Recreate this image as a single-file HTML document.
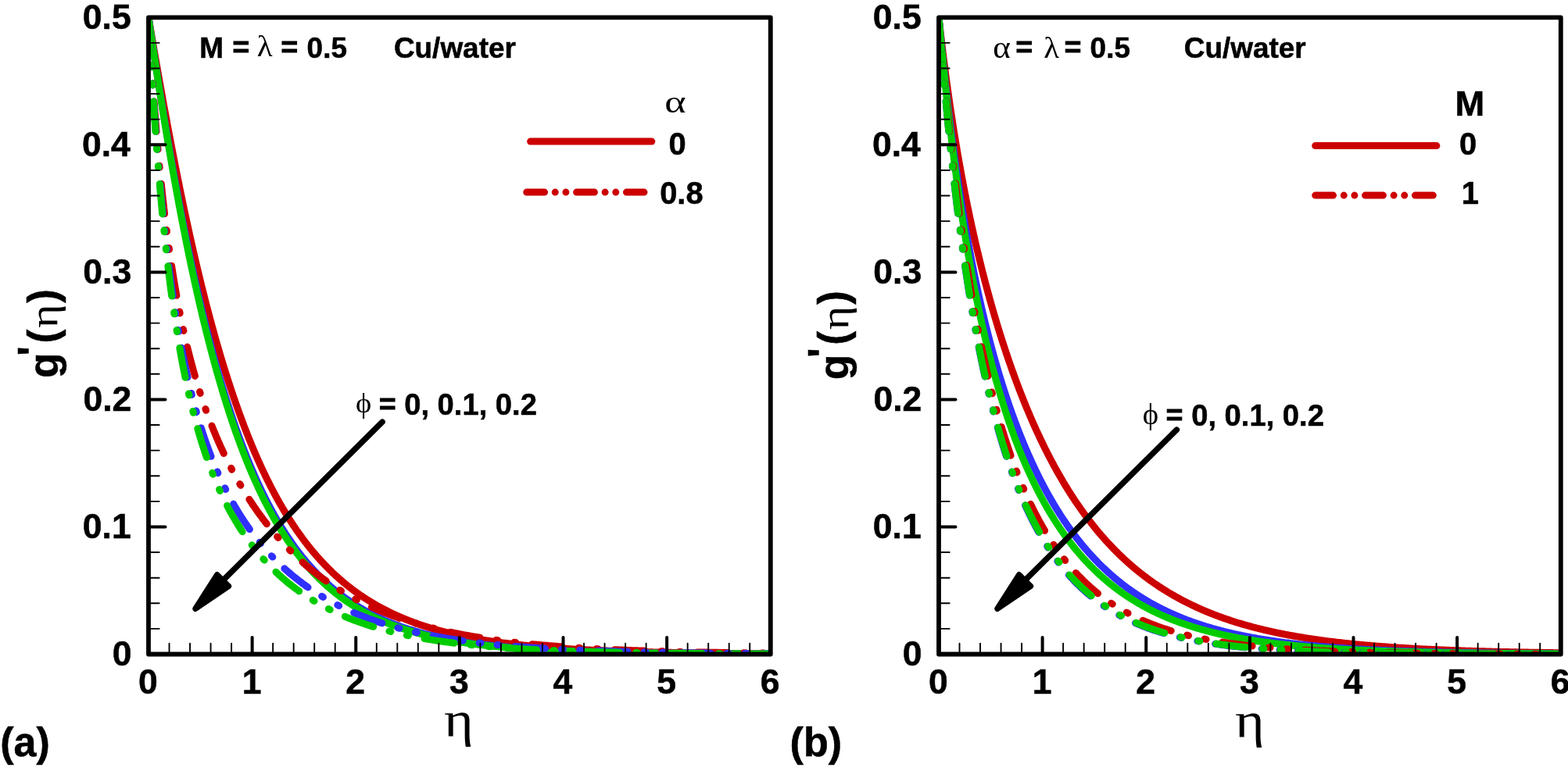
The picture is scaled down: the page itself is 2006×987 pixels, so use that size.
<!DOCTYPE html>
<html><head><meta charset="utf-8"><title>g'(η) profiles</title>
<style>html,body{margin:0;padding:0;background:#fff;overflow:hidden;width:2006px;height:987px}svg{display:block}</style></head>
<body>
<svg width="2006" height="987" viewBox="0 0 2006 987">
<rect width="2006" height="987" fill="#fff"/>
<defs><clipPath id="ca"><rect x="190.0" y="22.3" width="795.78" height="815.20"/></clipPath><clipPath id="cb"><rect x="1201.0" y="22.3" width="795.78" height="815.20"/></clipPath></defs>
<g clip-path="url(#ca)">
<path d="M190.00,22.30 L190.03,22.47 L190.09,22.82 L190.17,23.29 L190.26,23.86 L190.38,24.53 L190.50,25.29 L190.64,26.13 L190.80,27.04 L190.96,28.02 L191.14,29.07 L191.32,30.18 L191.52,31.35 L191.73,32.59 L191.95,33.88 L192.18,35.22 L192.41,36.62 L192.66,38.07 L192.91,39.58 L193.18,41.13 L193.45,42.73 L193.73,44.38 L194.01,46.07 L194.31,47.81 L194.61,49.60 L194.93,51.42 L195.24,53.29 L195.57,55.20 L195.90,57.15 L196.25,59.14 L196.59,61.17 L196.95,63.24 L197.31,65.34 L197.68,67.48 L198.06,69.66 L198.44,71.87 L198.83,74.12 L199.22,76.40 L199.63,78.72 L200.03,81.06 L200.45,83.44 L200.87,85.86 L201.30,88.30 L201.73,90.77 L202.17,93.28 L202.62,95.81 L203.07,98.37 L203.52,100.96 L203.99,103.58 L204.46,106.23 L204.93,108.90 L205.41,111.60 L205.90,114.32 L206.39,117.07 L206.89,119.85 L207.39,122.65 L207.90,125.47 L208.41,128.32 L208.93,131.19 L209.46,134.08 L209.99,136.99 L210.52,139.93 L211.07,142.88 L211.61,145.86 L212.16,148.86 L212.72,151.87 L213.28,154.91 L213.85,157.96 L214.42,161.04 L215.00,164.13 L215.58,167.24 L216.17,170.36 L216.76,173.50 L217.36,176.66 L217.96,179.83 L218.57,183.02 L219.18,186.22 L219.79,189.44 L220.42,192.67 L221.04,195.92 L221.67,199.18 L222.31,202.45 L222.95,205.73 L223.60,209.02 L224.25,212.33 L224.90,215.65 L225.56,218.97 L226.22,222.31 L226.89,225.66 L227.56,229.02 L228.24,232.38 L228.92,235.75 L229.61,239.14 L230.30,242.53 L231.00,245.92 L231.70,249.33 L232.40,252.74 L233.11,256.15 L233.82,259.57 L234.54,263.00 L235.26,266.43 L235.99,269.87 L236.72,273.31 L237.46,276.76 L238.20,280.20 L238.94,283.66 L239.69,287.11 L240.44,290.57 L241.20,294.02 L241.96,297.48 L242.72,300.94 L243.49,304.41 L244.26,307.87 L245.04,311.33 L245.82,314.79 L246.61,318.25 L247.40,321.71 L248.19,325.17 L248.99,328.63 L249.79,332.09 L250.60,335.54 L251.41,338.99 L252.22,342.44 L253.04,345.89 L253.86,349.33 L254.69,352.77 L255.52,356.20 L256.35,359.63 L257.19,363.05 L258.03,366.47 L258.87,369.89 L259.72,373.30 L260.58,376.70 L261.44,380.10 L262.30,383.49 L263.16,386.87 L264.03,390.25 L264.90,393.62 L265.78,396.98 L266.66,400.33 L267.55,403.68 L268.43,407.01 L269.33,410.34 L270.22,413.66 L271.12,416.97 L272.02,420.28 L272.93,423.57 L273.84,426.85 L274.76,430.12 L275.67,433.39 L276.60,436.64 L277.52,439.88 L278.45,443.11 L279.38,446.33 L280.32,449.54 L281.26,452.73 L282.20,455.92 L283.15,459.09 L284.10,462.25 L285.06,465.40 L286.02,468.54 L286.98,471.66 L287.94,474.77 L288.91,477.87 L289.89,480.96 L290.86,484.03 L291.84,487.09 L292.82,490.13 L293.81,493.16 L294.80,496.18 L295.80,499.19 L296.79,502.17 L297.79,505.15 L298.80,508.11 L299.81,511.06 L300.82,513.99 L301.83,516.91 L302.85,519.81 L303.87,522.69 L304.90,525.57 L305.93,528.42 L306.96,531.27 L308.00,534.09 L309.03,536.90 L310.08,539.70 L311.12,542.48 L312.17,545.24 L313.22,547.99 L314.28,550.72 L315.34,553.44 L316.40,556.14 L317.47,558.82 L318.54,561.49 L319.61,564.14 L320.69,566.78 L321.77,569.40 L322.85,572.00 L323.94,574.59 L325.03,577.16 L326.12,579.71 L327.21,582.25 L328.31,584.77 L329.42,587.27 L330.52,589.76 L331.63,592.23 L332.74,594.68 L333.86,597.12 L334.98,599.54 L336.10,601.94 L337.23,604.33 L338.35,606.70 L339.49,609.05 L340.62,611.39 L341.76,613.71 L342.90,616.01 L344.05,618.30 L345.19,620.57 L346.35,622.82 L347.50,625.06 L348.66,627.27 L349.82,629.48 L350.98,631.66 L352.15,633.83 L353.32,635.98 L354.49,638.12 L355.67,640.24 L356.85,642.34 L358.03,644.43 L359.22,646.50 L360.41,648.55 L361.60,650.59 L362.79,652.61 L363.99,654.61 L365.19,656.60 L366.40,658.57 L367.61,660.52 L368.82,662.46 L370.03,664.39 L371.25,666.29 L372.47,668.18 L373.69,670.06 L374.92,671.92 L376.15,673.76 L377.38,675.58 L378.61,677.40 L379.85,679.19 L381.09,680.97 L382.34,682.73 L383.59,684.48 L384.84,686.22 L386.09,687.93 L387.35,689.63 L388.61,691.32 L389.87,692.99 L391.13,694.65 L392.40,696.29 L393.67,697.92 L394.95,699.53 L396.23,701.12 L397.51,702.71 L398.79,704.27 L400.08,705.83 L401.37,707.36 L402.66,708.89 L403.95,710.40 L405.25,711.89 L406.55,713.37 L407.86,714.84 L409.16,716.29 L410.47,717.73 L411.79,719.15 L413.10,720.56 L414.42,721.96 L415.74,723.34 L417.07,724.71 L418.39,726.06 L419.72,727.41 L421.06,728.73 L422.39,730.05 L423.73,731.35 L425.07,732.64 L426.42,733.92 L427.77,735.18 L429.12,736.43 L430.47,737.67 L431.83,738.89 L433.18,740.11 L434.55,741.31 L435.91,742.50 L437.28,743.67 L438.65,744.83 L440.02,745.98 L441.40,747.12 L442.78,748.25 L444.16,749.37 L445.54,750.47 L446.93,751.56 L448.32,752.64 L449.72,753.71 L451.11,754.77 L452.51,755.81 L453.91,756.85 L455.32,757.87 L456.72,758.88 L458.13,759.88 L459.54,760.87 L460.96,761.85 L462.38,762.82 L463.80,763.78 L465.22,764.73 L466.65,765.66 L468.08,766.59 L469.51,767.51 L470.95,768.41 L472.38,769.31 L473.82,770.19 L475.27,771.07 L476.71,771.94 L478.16,772.79 L479.61,773.64 L481.07,774.48 L482.52,775.30 L483.98,776.12 L485.44,776.93 L486.91,777.73 L488.38,778.52 L489.85,779.30 L491.32,780.07 L492.80,780.84 L494.27,781.59 L495.75,782.34 L497.24,783.07 L498.73,783.80 L500.21,784.52 L501.71,785.23 L503.20,785.94 L504.70,786.63 L506.20,787.32 L507.70,788.00 L509.21,788.67 L510.71,789.33 L512.22,789.98 L513.74,790.63 L515.25,791.27 L516.77,791.90 L518.29,792.52 L519.82,793.14 L521.34,793.75 L522.87,794.35 L524.40,794.94 L525.94,795.53 L527.48,796.11 L529.02,796.68 L530.56,797.24 L532.10,797.80 L533.65,798.35 L535.20,798.90 L536.75,799.43 L538.31,799.97 L539.87,800.49 L541.43,801.01 L542.99,801.52 L544.56,802.02 L546.12,802.52 L547.70,803.02 L549.27,803.50 L550.85,803.98 L552.42,804.46 L554.01,804.92 L555.59,805.39 L557.18,805.84 L558.76,806.29 L560.36,806.74 L561.95,807.18 L563.55,807.61 L565.15,808.04 L566.75,808.46 L568.35,808.88 L569.96,809.29 L571.57,809.70 L573.18,810.10 L574.80,810.49 L576.41,810.88 L578.03,811.27 L579.66,811.65 L581.28,812.02 L582.91,812.39 L584.54,812.76 L586.17,813.12 L587.81,813.48 L589.44,813.83 L591.08,814.18 L592.73,814.52 L594.37,814.85 L596.02,815.19 L597.67,815.52 L599.32,815.84 L600.98,816.16 L602.63,816.48 L604.29,816.79 L605.96,817.10 L607.62,817.40 L609.29,817.70 L610.96,817.99 L612.63,818.28 L614.31,818.57 L615.98,818.85 L617.66,819.13 L619.35,819.41 L621.03,819.68 L622.72,819.95 L624.41,820.21 L626.10,820.47 L627.80,820.73 L629.49,820.98 L631.19,821.23 L632.89,821.48 L634.60,821.72 L636.31,821.96 L638.02,822.20 L639.73,822.43 L641.44,822.66 L643.16,822.89 L644.88,823.11 L646.60,823.33 L648.32,823.55 L650.05,823.77 L651.78,823.98 L653.51,824.18 L655.25,824.39 L656.98,824.59 L658.72,824.79 L660.46,824.99 L662.21,825.18 L663.95,825.37 L665.70,825.56 L667.45,825.75 L669.20,825.93 L670.96,826.11 L672.72,826.29 L674.48,826.47 L676.24,826.64 L678.01,826.81 L679.78,826.98 L681.55,827.14 L683.32,827.31 L685.09,827.47 L686.87,827.62 L688.65,827.78 L690.43,827.93 L692.22,828.09 L694.00,828.23 L695.79,828.38 L697.58,828.53 L699.38,828.67 L701.17,828.81 L702.97,828.95 L704.77,829.09 L706.58,829.22 L708.38,829.35 L710.19,829.48 L712.00,829.61 L713.82,829.74 L715.63,829.86 L717.45,829.99 L719.27,830.11 L721.09,830.23 L722.92,830.35 L724.74,830.46 L726.57,830.58 L728.40,830.69 L730.24,830.80 L732.07,830.91 L733.91,831.02 L735.75,831.12 L737.60,831.23 L739.44,831.33 L741.29,831.43 L743.14,831.53 L744.99,831.63 L746.85,831.72 L748.71,831.82 L750.57,831.91 L752.43,832.00 L754.29,832.09 L756.16,832.18 L758.03,832.27 L759.90,832.36 L761.77,832.44 L763.65,832.53 L765.53,832.61 L767.41,832.69 L769.29,832.77 L771.17,832.85 L773.06,832.93 L774.95,833.01 L776.84,833.08 L778.74,833.15 L780.63,833.23 L782.53,833.30 L784.43,833.37 L786.34,833.44 L788.24,833.51 L790.15,833.58 L792.06,833.64 L793.97,833.71 L795.89,833.77 L797.80,833.83 L799.72,833.90 L801.65,833.96 L803.57,834.02 L805.49,834.08 L807.42,834.14 L809.35,834.19 L811.29,834.25 L813.22,834.31 L815.16,834.36 L817.10,834.41 L819.04,834.47 L820.98,834.52 L822.93,834.57 L824.88,834.62 L826.83,834.67 L828.78,834.72 L830.74,834.77 L832.70,834.81 L834.66,834.86 L836.62,834.91 L838.58,834.95 L840.55,835.00 L842.52,835.04 L844.49,835.08 L846.46,835.12 L848.44,835.17 L850.42,835.21 L852.40,835.25 L854.38,835.29 L856.36,835.33 L858.35,835.36 L860.34,835.40 L862.33,835.44 L864.32,835.47 L866.32,835.51 L868.31,835.55 L870.31,835.58 L872.32,835.61 L874.32,835.65 L876.33,835.68 L878.34,835.71 L880.35,835.74 L882.36,835.78 L884.37,835.81 L886.39,835.84 L888.41,835.87 L890.43,835.89 L892.46,835.92 L894.48,835.95 L896.51,835.98 L898.54,836.01 L900.57,836.03 L902.61,836.06 L904.65,836.09 L906.69,836.11 L908.73,836.14 L910.77,836.16 L912.82,836.18 L914.87,836.21 L916.92,836.23 L918.97,836.26 L921.02,836.28 L923.08,836.30 L925.14,836.32 L927.20,836.34 L929.26,836.36 L931.33,836.38 L933.39,836.41 L935.46,836.43 L937.54,836.44 L939.61,836.46 L941.69,836.48 L943.76,836.50 L945.85,836.52 L947.93,836.54 L950.01,836.56 L952.10,836.57 L954.19,836.59 L956.28,836.61 L958.37,836.62 L960.47,836.64 L962.57,836.66 L964.67,836.67 L966.77,836.69 L968.87,836.70 L970.98,836.72 L973.09,836.73 L975.20,836.75 L977.31,836.76 L979.42,836.77 L981.54,836.79 L983.66,836.80 L985.78,836.81" fill="none" stroke="#cc0000" stroke-width="9" stroke-linecap="round" stroke-linejoin="round"/>
<path d="M190.00,22.30 L190.03,22.49 L190.09,22.88 L190.17,23.42 L190.26,24.07 L190.38,24.83 L190.50,25.68 L190.64,26.63 L190.80,27.66 L190.96,28.77 L191.14,29.95 L191.32,31.21 L191.52,32.53 L191.73,33.93 L191.95,35.38 L192.18,36.90 L192.41,38.48 L192.66,40.12 L192.91,41.81 L193.18,43.56 L193.45,45.36 L193.73,47.22 L194.01,49.12 L194.31,51.08 L194.61,53.08 L194.93,55.14 L195.24,57.23 L195.57,59.38 L195.90,61.57 L196.25,63.80 L196.59,66.07 L196.95,68.39 L197.31,70.74 L197.68,73.14 L198.06,75.57 L198.44,78.04 L198.83,80.55 L199.22,83.10 L199.63,85.68 L200.03,88.30 L200.45,90.95 L200.87,93.64 L201.30,96.36 L201.73,99.11 L202.17,101.89 L202.62,104.71 L203.07,107.55 L203.52,110.42 L203.99,113.33 L204.46,116.26 L204.93,119.22 L205.41,122.20 L205.90,125.21 L206.39,128.25 L206.89,131.32 L207.39,134.40 L207.90,137.52 L208.41,140.65 L208.93,143.81 L209.46,146.99 L209.99,150.20 L210.52,153.42 L211.07,156.67 L211.61,159.93 L212.16,163.22 L212.72,166.52 L213.28,169.84 L213.85,173.19 L214.42,176.54 L215.00,179.92 L215.58,183.31 L216.17,186.72 L216.76,190.14 L217.36,193.58 L217.96,197.03 L218.57,200.49 L219.18,203.97 L219.79,207.47 L220.42,210.97 L221.04,214.48 L221.67,218.01 L222.31,221.55 L222.95,225.10 L223.60,228.66 L224.25,232.22 L224.90,235.80 L225.56,239.38 L226.22,242.98 L226.89,246.58 L227.56,250.18 L228.24,253.80 L228.92,257.42 L229.61,261.04 L230.30,264.67 L231.00,268.31 L231.70,271.95 L232.40,275.59 L233.11,279.24 L233.82,282.89 L234.54,286.54 L235.26,290.20 L235.99,293.85 L236.72,297.51 L237.46,301.17 L238.20,304.83 L238.94,308.48 L239.69,312.14 L240.44,315.80 L241.20,319.46 L241.96,323.11 L242.72,326.77 L243.49,330.42 L244.26,334.07 L245.04,337.71 L245.82,341.35 L246.61,344.99 L247.40,348.62 L248.19,352.25 L248.99,355.88 L249.79,359.50 L250.60,363.11 L251.41,366.72 L252.22,370.32 L253.04,373.92 L253.86,377.51 L254.69,381.09 L255.52,384.66 L256.35,388.23 L257.19,391.78 L258.03,395.33 L258.87,398.87 L259.72,402.40 L260.58,405.93 L261.44,409.44 L262.30,412.94 L263.16,416.43 L264.03,419.92 L264.90,423.39 L265.78,426.85 L266.66,430.30 L267.55,433.74 L268.43,437.16 L269.33,440.58 L270.22,443.98 L271.12,447.37 L272.02,450.74 L272.93,454.11 L273.84,457.46 L274.76,460.80 L275.67,464.12 L276.60,467.43 L277.52,470.73 L278.45,474.01 L279.38,477.28 L280.32,480.53 L281.26,483.77 L282.20,486.99 L283.15,490.20 L284.10,493.40 L285.06,496.58 L286.02,499.74 L286.98,502.89 L287.94,506.02 L288.91,509.13 L289.89,512.23 L290.86,515.31 L291.84,518.38 L292.82,521.43 L293.81,524.46 L294.80,527.48 L295.80,530.48 L296.79,533.46 L297.79,536.43 L298.80,539.38 L299.81,542.31 L300.82,545.22 L301.83,548.12 L302.85,551.00 L303.87,553.86 L304.90,556.70 L305.93,559.53 L306.96,562.34 L308.00,565.13 L309.03,567.90 L310.08,570.65 L311.12,573.39 L312.17,576.11 L313.22,578.80 L314.28,581.49 L315.34,584.15 L316.40,586.79 L317.47,589.42 L318.54,592.03 L319.61,594.61 L320.69,597.19 L321.77,599.74 L322.85,602.27 L323.94,604.79 L325.03,607.28 L326.12,609.76 L327.21,612.22 L328.31,614.66 L329.42,617.08 L330.52,619.49 L331.63,621.87 L332.74,624.24 L333.86,626.59 L334.98,628.92 L336.10,631.23 L337.23,633.52 L338.35,635.80 L339.49,638.05 L340.62,640.29 L341.76,642.51 L342.90,644.71 L344.05,646.89 L345.19,649.06 L346.35,651.20 L347.50,653.33 L348.66,655.44 L349.82,657.53 L350.98,659.60 L352.15,661.66 L353.32,663.70 L354.49,665.72 L355.67,667.72 L356.85,669.70 L358.03,671.67 L359.22,673.62 L360.41,675.55 L361.60,677.46 L362.79,679.36 L363.99,681.24 L365.19,683.10 L366.40,684.94 L367.61,686.77 L368.82,688.58 L370.03,690.37 L371.25,692.15 L372.47,693.91 L373.69,695.65 L374.92,697.38 L376.15,699.09 L377.38,700.78 L378.61,702.45 L379.85,704.11 L381.09,705.76 L382.34,707.38 L383.59,709.00 L384.84,710.59 L386.09,712.17 L387.35,713.73 L388.61,715.28 L389.87,716.81 L391.13,718.33 L392.40,719.83 L393.67,721.31 L394.95,722.78 L396.23,724.24 L397.51,725.68 L398.79,727.10 L400.08,728.51 L401.37,729.91 L402.66,731.29 L403.95,732.65 L405.25,734.00 L406.55,735.34 L407.86,736.66 L409.16,737.97 L410.47,739.26 L411.79,740.54 L413.10,741.81 L414.42,743.06 L415.74,744.30 L417.07,745.53 L418.39,746.74 L419.72,747.94 L421.06,749.12 L422.39,750.29 L423.73,751.45 L425.07,752.60 L426.42,753.73 L427.77,754.85 L429.12,755.95 L430.47,757.05 L431.83,758.13 L433.18,759.20 L434.55,760.26 L435.91,761.30 L437.28,762.34 L438.65,763.36 L440.02,764.37 L441.40,765.36 L442.78,766.35 L444.16,767.32 L445.54,768.29 L446.93,769.24 L448.32,770.18 L449.72,771.11 L451.11,772.03 L452.51,772.93 L453.91,773.83 L455.32,774.71 L456.72,775.59 L458.13,776.45 L459.54,777.31 L460.96,778.15 L462.38,778.98 L463.80,779.81 L465.22,780.62 L466.65,781.42 L468.08,782.22 L469.51,783.00 L470.95,783.77 L472.38,784.54 L473.82,785.29 L475.27,786.04 L476.71,786.77 L478.16,787.50 L479.61,788.22 L481.07,788.92 L482.52,789.62 L483.98,790.31 L485.44,791.00 L486.91,791.67 L488.38,792.33 L489.85,792.99 L491.32,793.64 L492.80,794.28 L494.27,794.91 L495.75,795.53 L497.24,796.14 L498.73,796.75 L500.21,797.35 L501.71,797.94 L503.20,798.52 L504.70,799.10 L506.20,799.67 L507.70,800.23 L509.21,800.78 L510.71,801.33 L512.22,801.87 L513.74,802.40 L515.25,802.92 L516.77,803.44 L518.29,803.95 L519.82,804.46 L521.34,804.95 L522.87,805.44 L524.40,805.93 L525.94,806.40 L527.48,806.87 L529.02,807.34 L530.56,807.80 L532.10,808.25 L533.65,808.69 L535.20,809.13 L536.75,809.57 L538.31,809.99 L539.87,810.42 L541.43,810.83 L542.99,811.24 L544.56,811.65 L546.12,812.05 L547.70,812.44 L549.27,812.83 L550.85,813.21 L552.42,813.59 L554.01,813.96 L555.59,814.32 L557.18,814.69 L558.76,815.04 L560.36,815.39 L561.95,815.74 L563.55,816.08 L565.15,816.42 L566.75,816.75 L568.35,817.07 L569.96,817.40 L571.57,817.71 L573.18,818.03 L574.80,818.34 L576.41,818.64 L578.03,818.94 L579.66,819.24 L581.28,819.53 L582.91,819.81 L584.54,820.10 L586.17,820.37 L587.81,820.65 L589.44,820.92 L591.08,821.19 L592.73,821.45 L594.37,821.71 L596.02,821.96 L597.67,822.21 L599.32,822.46 L600.98,822.71 L602.63,822.95 L604.29,823.18 L605.96,823.42 L607.62,823.65 L609.29,823.87 L610.96,824.09 L612.63,824.31 L614.31,824.53 L615.98,824.74 L617.66,824.95 L619.35,825.16 L621.03,825.36 L622.72,825.56 L624.41,825.76 L626.10,825.95 L627.80,826.15 L629.49,826.33 L631.19,826.52 L632.89,826.70 L634.60,826.88 L636.31,827.06 L638.02,827.23 L639.73,827.41 L641.44,827.58 L643.16,827.74 L644.88,827.91 L646.60,828.07 L648.32,828.23 L650.05,828.38 L651.78,828.54 L653.51,828.69 L655.25,828.84 L656.98,828.98 L658.72,829.13 L660.46,829.27 L662.21,829.41 L663.95,829.55 L665.70,829.69 L667.45,829.82 L669.20,829.95 L670.96,830.08 L672.72,830.21 L674.48,830.33 L676.24,830.46 L678.01,830.58 L679.78,830.70 L681.55,830.81 L683.32,830.93 L685.09,831.04 L686.87,831.15 L688.65,831.27 L690.43,831.37 L692.22,831.48 L694.00,831.58 L695.79,831.69 L697.58,831.79 L699.38,831.89 L701.17,831.99 L702.97,832.08 L704.77,832.18 L706.58,832.27 L708.38,832.36 L710.19,832.46 L712.00,832.54 L713.82,832.63 L715.63,832.72 L717.45,832.80 L719.27,832.89 L721.09,832.97 L722.92,833.05 L724.74,833.13 L726.57,833.21 L728.40,833.28 L730.24,833.36 L732.07,833.43 L733.91,833.50 L735.75,833.58 L737.60,833.65 L739.44,833.72 L741.29,833.78 L743.14,833.85 L744.99,833.92 L746.85,833.98 L748.71,834.04 L750.57,834.11 L752.43,834.17 L754.29,834.23 L756.16,834.29 L758.03,834.35 L759.90,834.40 L761.77,834.46 L763.65,834.52 L765.53,834.57 L767.41,834.62 L769.29,834.68 L771.17,834.73 L773.06,834.78 L774.95,834.83 L776.84,834.88 L778.74,834.93 L780.63,834.97 L782.53,835.02 L784.43,835.07 L786.34,835.11 L788.24,835.16 L790.15,835.20 L792.06,835.24 L793.97,835.28 L795.89,835.33 L797.80,835.37 L799.72,835.41 L801.65,835.44 L803.57,835.48 L805.49,835.52 L807.42,835.56 L809.35,835.59 L811.29,835.63 L813.22,835.67 L815.16,835.70 L817.10,835.73 L819.04,835.77 L820.98,835.80 L822.93,835.83 L824.88,835.86 L826.83,835.89 L828.78,835.93 L830.74,835.95 L832.70,835.98 L834.66,836.01 L836.62,836.04 L838.58,836.07 L840.55,836.10 L842.52,836.12 L844.49,836.15 L846.46,836.18 L848.44,836.20 L850.42,836.23 L852.40,836.25 L854.38,836.27 L856.36,836.30 L858.35,836.32 L860.34,836.34 L862.33,836.37 L864.32,836.39 L866.32,836.41 L868.31,836.43 L870.31,836.45 L872.32,836.47 L874.32,836.49 L876.33,836.51 L878.34,836.53 L880.35,836.55 L882.36,836.57 L884.37,836.59 L886.39,836.60 L888.41,836.62 L890.43,836.64 L892.46,836.66 L894.48,836.67 L896.51,836.69 L898.54,836.71 L900.57,836.72 L902.61,836.74 L904.65,836.75 L906.69,836.77 L908.73,836.78 L910.77,836.79 L912.82,836.81 L914.87,836.82 L916.92,836.84 L918.97,836.85 L921.02,836.86 L923.08,836.87 L925.14,836.89 L927.20,836.90 L929.26,836.91 L931.33,836.92 L933.39,836.93 L935.46,836.95 L937.54,836.96 L939.61,836.97 L941.69,836.98 L943.76,836.99 L945.85,837.00 L947.93,837.01 L950.01,837.02 L952.10,837.03 L954.19,837.04 L956.28,837.05 L958.37,837.06 L960.47,837.07 L962.57,837.08 L964.67,837.08 L966.77,837.09 L968.87,837.10 L970.98,837.11 L973.09,837.12 L975.20,837.12 L977.31,837.13 L979.42,837.14 L981.54,837.15 L983.66,837.15 L985.78,837.16" fill="none" stroke="#3030ff" stroke-width="9" stroke-linecap="round" stroke-linejoin="round"/>
<path d="M190.00,22.30 L190.03,22.50 L190.09,22.90 L190.17,23.44 L190.26,24.11 L190.38,24.88 L190.50,25.75 L190.64,26.72 L190.80,27.77 L190.96,28.90 L191.14,30.10 L191.32,31.39 L191.52,32.74 L191.73,34.16 L191.95,35.64 L192.18,37.19 L192.41,38.80 L192.66,40.47 L192.91,42.20 L193.18,43.98 L193.45,45.82 L193.73,47.71 L194.01,49.65 L194.31,51.64 L194.61,53.68 L194.93,55.78 L195.24,57.91 L195.57,60.10 L195.90,62.33 L196.25,64.60 L196.59,66.91 L196.95,69.27 L197.31,71.67 L197.68,74.11 L198.06,76.59 L198.44,79.11 L198.83,81.66 L199.22,84.25 L199.63,86.88 L200.03,89.55 L200.45,92.25 L200.87,94.98 L201.30,97.75 L201.73,100.54 L202.17,103.38 L202.62,106.24 L203.07,109.13 L203.52,112.05 L203.99,115.00 L204.46,117.98 L204.93,120.99 L205.41,124.03 L205.90,127.09 L206.39,130.18 L206.89,133.29 L207.39,136.43 L207.90,139.59 L208.41,142.78 L208.93,145.99 L209.46,149.22 L209.99,152.47 L210.52,155.75 L211.07,159.04 L211.61,162.36 L212.16,165.69 L212.72,169.05 L213.28,172.42 L213.85,175.81 L214.42,179.22 L215.00,182.64 L215.58,186.08 L216.17,189.54 L216.76,193.01 L217.36,196.49 L217.96,199.99 L218.57,203.51 L219.18,207.03 L219.79,210.57 L220.42,214.12 L221.04,217.68 L221.67,221.26 L222.31,224.84 L222.95,228.44 L223.60,232.04 L224.25,235.65 L224.90,239.27 L225.56,242.90 L226.22,246.54 L226.89,250.18 L227.56,253.83 L228.24,257.49 L228.92,261.15 L229.61,264.82 L230.30,268.49 L231.00,272.17 L231.70,275.85 L232.40,279.53 L233.11,283.22 L233.82,286.91 L234.54,290.60 L235.26,294.29 L235.99,297.98 L236.72,301.68 L237.46,305.37 L238.20,309.07 L238.94,312.76 L239.69,316.46 L240.44,320.15 L241.20,323.84 L241.96,327.53 L242.72,331.21 L243.49,334.90 L244.26,338.58 L245.04,342.25 L245.82,345.93 L246.61,349.59 L247.40,353.26 L248.19,356.92 L248.99,360.57 L249.79,364.22 L250.60,367.86 L251.41,371.49 L252.22,375.12 L253.04,378.74 L253.86,382.35 L254.69,385.96 L255.52,389.55 L256.35,393.14 L257.19,396.72 L258.03,400.29 L258.87,403.86 L259.72,407.41 L260.58,410.95 L261.44,414.48 L262.30,418.00 L263.16,421.51 L264.03,425.01 L264.90,428.50 L265.78,431.98 L266.66,435.44 L267.55,438.90 L268.43,442.34 L269.33,445.76 L270.22,449.18 L271.12,452.58 L272.02,455.97 L272.93,459.35 L273.84,462.71 L274.76,466.06 L275.67,469.39 L276.60,472.71 L277.52,476.01 L278.45,479.30 L279.38,482.58 L280.32,485.84 L281.26,489.09 L282.20,492.31 L283.15,495.53 L284.10,498.73 L285.06,501.91 L286.02,505.08 L286.98,508.23 L287.94,511.36 L288.91,514.48 L289.89,517.58 L290.86,520.66 L291.84,523.73 L292.82,526.78 L293.81,529.81 L294.80,532.82 L295.80,535.82 L296.79,538.80 L297.79,541.77 L298.80,544.71 L299.81,547.64 L300.82,550.55 L301.83,553.44 L302.85,556.31 L303.87,559.17 L304.90,562.00 L305.93,564.82 L306.96,567.62 L308.00,570.41 L309.03,573.17 L310.08,575.91 L311.12,578.64 L312.17,581.35 L313.22,584.04 L314.28,586.71 L315.34,589.36 L316.40,591.99 L317.47,594.61 L318.54,597.20 L319.61,599.78 L320.69,602.34 L321.77,604.88 L322.85,607.40 L323.94,609.90 L325.03,612.38 L326.12,614.84 L327.21,617.29 L328.31,619.72 L329.42,622.12 L330.52,624.51 L331.63,626.88 L332.74,629.23 L333.86,631.56 L334.98,633.87 L336.10,636.17 L337.23,638.44 L338.35,640.70 L339.49,642.94 L340.62,645.15 L341.76,647.35 L342.90,649.54 L344.05,651.70 L345.19,653.84 L346.35,655.97 L347.50,658.08 L348.66,660.17 L349.82,662.24 L350.98,664.29 L352.15,666.33 L353.32,668.34 L354.49,670.34 L355.67,672.32 L356.85,674.28 L358.03,676.23 L359.22,678.15 L360.41,680.06 L361.60,681.95 L362.79,683.83 L363.99,685.68 L365.19,687.52 L366.40,689.34 L367.61,691.15 L368.82,692.93 L370.03,694.70 L371.25,696.45 L372.47,698.19 L373.69,699.91 L374.92,701.61 L376.15,703.29 L377.38,704.96 L378.61,706.61 L379.85,708.25 L381.09,709.87 L382.34,711.47 L383.59,713.06 L384.84,714.63 L386.09,716.18 L387.35,717.72 L388.61,719.24 L389.87,720.75 L391.13,722.24 L392.40,723.71 L393.67,725.17 L394.95,726.62 L396.23,728.05 L397.51,729.46 L398.79,730.86 L400.08,732.24 L401.37,733.61 L402.66,734.97 L403.95,736.31 L405.25,737.63 L406.55,738.94 L407.86,740.24 L409.16,741.52 L410.47,742.79 L411.79,744.05 L413.10,745.29 L414.42,746.51 L415.74,747.73 L417.07,748.93 L418.39,750.11 L419.72,751.28 L421.06,752.44 L422.39,753.59 L423.73,754.72 L425.07,755.84 L426.42,756.95 L427.77,758.04 L429.12,759.13 L430.47,760.20 L431.83,761.25 L433.18,762.30 L434.55,763.33 L435.91,764.35 L437.28,765.36 L438.65,766.35 L440.02,767.34 L441.40,768.31 L442.78,769.27 L444.16,770.22 L445.54,771.16 L446.93,772.09 L448.32,773.00 L449.72,773.91 L451.11,774.80 L452.51,775.68 L453.91,776.56 L455.32,777.42 L456.72,778.27 L458.13,779.11 L459.54,779.94 L460.96,780.76 L462.38,781.57 L463.80,782.37 L465.22,783.16 L466.65,783.94 L468.08,784.71 L469.51,785.47 L470.95,786.22 L472.38,786.96 L473.82,787.69 L475.27,788.41 L476.71,789.13 L478.16,789.83 L479.61,790.53 L481.07,791.21 L482.52,791.89 L483.98,792.56 L485.44,793.22 L486.91,793.87 L488.38,794.51 L489.85,795.15 L491.32,795.77 L492.80,796.39 L494.27,797.00 L495.75,797.61 L497.24,798.20 L498.73,798.79 L500.21,799.36 L501.71,799.93 L503.20,800.50 L504.70,801.05 L506.20,801.60 L507.70,802.14 L509.21,802.68 L510.71,803.20 L512.22,803.72 L513.74,804.23 L515.25,804.74 L516.77,805.24 L518.29,805.73 L519.82,806.21 L521.34,806.69 L522.87,807.16 L524.40,807.63 L525.94,808.09 L527.48,808.54 L529.02,808.99 L530.56,809.43 L532.10,809.86 L533.65,810.29 L535.20,810.71 L536.75,811.13 L538.31,811.54 L539.87,811.94 L541.43,812.34 L542.99,812.74 L544.56,813.12 L546.12,813.51 L547.70,813.88 L549.27,814.25 L550.85,814.62 L552.42,814.98 L554.01,815.34 L555.59,815.69 L557.18,816.03 L558.76,816.37 L560.36,816.71 L561.95,817.04 L563.55,817.37 L565.15,817.69 L566.75,818.01 L568.35,818.32 L569.96,818.63 L571.57,818.93 L573.18,819.23 L574.80,819.52 L576.41,819.81 L578.03,820.10 L579.66,820.38 L581.28,820.66 L582.91,820.93 L584.54,821.20 L586.17,821.46 L587.81,821.73 L589.44,821.98 L591.08,822.24 L592.73,822.49 L594.37,822.73 L596.02,822.97 L597.67,823.21 L599.32,823.45 L600.98,823.68 L602.63,823.91 L604.29,824.13 L605.96,824.35 L607.62,824.57 L609.29,824.79 L610.96,825.00 L612.63,825.21 L614.31,825.41 L615.98,825.61 L617.66,825.81 L619.35,826.01 L621.03,826.20 L622.72,826.39 L624.41,826.58 L626.10,826.76 L627.80,826.94 L629.49,827.12 L631.19,827.30 L632.89,827.47 L634.60,827.64 L636.31,827.81 L638.02,827.97 L639.73,828.13 L641.44,828.29 L643.16,828.45 L644.88,828.60 L646.60,828.76 L648.32,828.91 L650.05,829.05 L651.78,829.20 L653.51,829.34 L655.25,829.48 L656.98,829.62 L658.72,829.76 L660.46,829.89 L662.21,830.02 L663.95,830.15 L665.70,830.28 L667.45,830.40 L669.20,830.53 L670.96,830.65 L672.72,830.77 L674.48,830.89 L676.24,831.00 L678.01,831.12 L679.78,831.23 L681.55,831.34 L683.32,831.45 L685.09,831.55 L686.87,831.66 L688.65,831.76 L690.43,831.86 L692.22,831.96 L694.00,832.06 L695.79,832.16 L697.58,832.25 L699.38,832.34 L701.17,832.44 L702.97,832.53 L704.77,832.61 L706.58,832.70 L708.38,832.79 L710.19,832.87 L712.00,832.96 L713.82,833.04 L715.63,833.12 L717.45,833.20 L719.27,833.27 L721.09,833.35 L722.92,833.42 L724.74,833.50 L726.57,833.57 L728.40,833.64 L730.24,833.71 L732.07,833.78 L733.91,833.85 L735.75,833.92 L737.60,833.98 L739.44,834.05 L741.29,834.11 L743.14,834.17 L744.99,834.23 L746.85,834.29 L748.71,834.35 L750.57,834.41 L752.43,834.47 L754.29,834.52 L756.16,834.58 L758.03,834.63 L759.90,834.68 L761.77,834.74 L763.65,834.79 L765.53,834.84 L767.41,834.89 L769.29,834.94 L771.17,834.98 L773.06,835.03 L774.95,835.08 L776.84,835.12 L778.74,835.17 L780.63,835.21 L782.53,835.25 L784.43,835.30 L786.34,835.34 L788.24,835.38 L790.15,835.42 L792.06,835.46 L793.97,835.50 L795.89,835.53 L797.80,835.57 L799.72,835.61 L801.65,835.64 L803.57,835.68 L805.49,835.71 L807.42,835.75 L809.35,835.78 L811.29,835.81 L813.22,835.85 L815.16,835.88 L817.10,835.91 L819.04,835.94 L820.98,835.97 L822.93,836.00 L824.88,836.03 L826.83,836.06 L828.78,836.08 L830.74,836.11 L832.70,836.14 L834.66,836.16 L836.62,836.19 L838.58,836.22 L840.55,836.24 L842.52,836.26 L844.49,836.29 L846.46,836.31 L848.44,836.34 L850.42,836.36 L852.40,836.38 L854.38,836.40 L856.36,836.42 L858.35,836.44 L860.34,836.47 L862.33,836.49 L864.32,836.51 L866.32,836.53 L868.31,836.54 L870.31,836.56 L872.32,836.58 L874.32,836.60 L876.33,836.62 L878.34,836.64 L880.35,836.65 L882.36,836.67 L884.37,836.69 L886.39,836.70 L888.41,836.72 L890.43,836.73 L892.46,836.75 L894.48,836.76 L896.51,836.78 L898.54,836.79 L900.57,836.81 L902.61,836.82 L904.65,836.83 L906.69,836.85 L908.73,836.86 L910.77,836.87 L912.82,836.89 L914.87,836.90 L916.92,836.91 L918.97,836.92 L921.02,836.94 L923.08,836.95 L925.14,836.96 L927.20,836.97 L929.26,836.98 L931.33,836.99 L933.39,837.00 L935.46,837.01 L937.54,837.02 L939.61,837.03 L941.69,837.04 L943.76,837.05 L945.85,837.06 L947.93,837.07 L950.01,837.08 L952.10,837.09 L954.19,837.09 L956.28,837.10 L958.37,837.11 L960.47,837.12 L962.57,837.13 L964.67,837.13 L966.77,837.14 L968.87,837.15 L970.98,837.16 L973.09,837.16 L975.20,837.17 L977.31,837.18 L979.42,837.18 L981.54,837.19 L983.66,837.20 L985.78,837.20" fill="none" stroke="#00cc00" stroke-width="9" stroke-linecap="round" stroke-linejoin="round"/>
<path d="M190.00,22.30 L190.03,22.80 L190.09,23.82 L190.17,25.21 L190.26,26.90 L190.38,28.86 L190.50,31.06 L190.64,33.47 L190.80,36.09 L190.96,38.90 L191.14,41.87 L191.32,45.01 L191.52,48.29 L191.73,51.72 L191.95,55.28 L192.18,58.96 L192.41,62.75 L192.66,66.65 L192.91,70.65 L193.18,74.75 L193.45,78.93 L193.73,83.19 L194.01,87.52 L194.31,91.92 L194.61,96.39 L194.93,100.92 L195.24,105.50 L195.57,110.12 L195.90,114.80 L196.25,119.51 L196.59,124.26 L196.95,129.04 L197.31,133.84 L197.68,138.68 L198.06,143.53 L198.44,148.40 L198.83,153.29 L199.22,158.18 L199.63,163.09 L200.03,168.00 L200.45,172.91 L200.87,177.83 L201.30,182.74 L201.73,187.65 L202.17,192.55 L202.62,197.44 L203.07,202.33 L203.52,207.20 L203.99,212.05 L204.46,216.90 L204.93,221.72 L205.41,226.52 L205.90,231.31 L206.39,236.07 L206.89,240.81 L207.39,245.53 L207.90,250.23 L208.41,254.89 L208.93,259.53 L209.46,264.15 L209.99,268.73 L210.52,273.28 L211.07,277.81 L211.61,282.30 L212.16,286.77 L212.72,291.20 L213.28,295.60 L213.85,299.97 L214.42,304.31 L215.00,308.61 L215.58,312.88 L216.17,317.11 L216.76,321.32 L217.36,325.48 L217.96,329.62 L218.57,333.72 L219.18,337.79 L219.79,341.82 L220.42,345.82 L221.04,349.78 L221.67,353.71 L222.31,357.60 L222.95,361.46 L223.60,365.29 L224.25,369.09 L224.90,372.85 L225.56,376.57 L226.22,380.27 L226.89,383.93 L227.56,387.56 L228.24,391.15 L228.92,394.72 L229.61,398.25 L230.30,401.75 L231.00,405.21 L231.70,408.65 L232.40,412.06 L233.11,415.43 L233.82,418.78 L234.54,422.09 L235.26,425.37 L235.99,428.63 L236.72,431.86 L237.46,435.05 L238.20,438.22 L238.94,441.36 L239.69,444.48 L240.44,447.56 L241.20,450.62 L241.96,453.65 L242.72,456.66 L243.49,459.64 L244.26,462.59 L245.04,465.52 L245.82,468.42 L246.61,471.30 L247.40,474.15 L248.19,476.98 L248.99,479.78 L249.79,482.57 L250.60,485.32 L251.41,488.06 L252.22,490.77 L253.04,493.46 L253.86,496.13 L254.69,498.78 L255.52,501.41 L256.35,504.01 L257.19,506.59 L258.03,509.16 L258.87,511.70 L259.72,514.22 L260.58,516.73 L261.44,519.21 L262.30,521.67 L263.16,524.12 L264.03,526.55 L264.90,528.96 L265.78,531.35 L266.66,533.72 L267.55,536.08 L268.43,538.41 L269.33,540.73 L270.22,543.04 L271.12,545.32 L272.02,547.59 L272.93,549.85 L273.84,552.09 L274.76,554.31 L275.67,556.51 L276.60,558.71 L277.52,560.88 L278.45,563.04 L279.38,565.19 L280.32,567.32 L281.26,569.43 L282.20,571.53 L283.15,573.62 L284.10,575.69 L285.06,577.75 L286.02,579.80 L286.98,581.83 L287.94,583.85 L288.91,585.85 L289.89,587.84 L290.86,589.82 L291.84,591.79 L292.82,593.74 L293.81,595.68 L294.80,597.61 L295.80,599.52 L296.79,601.42 L297.79,603.31 L298.80,605.19 L299.81,607.06 L300.82,608.91 L301.83,610.75 L302.85,612.58 L303.87,614.40 L304.90,616.21 L305.93,618.01 L306.96,619.79 L308.00,621.56 L309.03,623.32 L310.08,625.08 L311.12,626.82 L312.17,628.54 L313.22,630.26 L314.28,631.97 L315.34,633.67 L316.40,635.35 L317.47,637.03 L318.54,638.69 L319.61,640.34 L320.69,641.99 L321.77,643.62 L322.85,645.25 L323.94,646.86 L325.03,648.46 L326.12,650.05 L327.21,651.64 L328.31,653.21 L329.42,654.77 L330.52,656.32 L331.63,657.87 L332.74,659.40 L333.86,660.92 L334.98,662.44 L336.10,663.94 L337.23,665.43 L338.35,666.92 L339.49,668.39 L340.62,669.86 L341.76,671.32 L342.90,672.76 L344.05,674.20 L345.19,675.63 L346.35,677.05 L347.50,678.46 L348.66,679.86 L349.82,681.25 L350.98,682.63 L352.15,684.00 L353.32,685.37 L354.49,686.72 L355.67,688.07 L356.85,689.40 L358.03,690.73 L359.22,692.05 L360.41,693.36 L361.60,694.66 L362.79,695.95 L363.99,697.24 L365.19,698.51 L366.40,699.78 L367.61,701.04 L368.82,702.29 L370.03,703.53 L371.25,704.76 L372.47,705.98 L373.69,707.20 L374.92,708.40 L376.15,709.60 L377.38,710.79 L378.61,711.97 L379.85,713.14 L381.09,714.31 L382.34,715.46 L383.59,716.61 L384.84,717.75 L386.09,718.88 L387.35,720.00 L388.61,721.12 L389.87,722.22 L391.13,723.32 L392.40,724.41 L393.67,725.49 L394.95,726.57 L396.23,727.64 L397.51,728.69 L398.79,729.74 L400.08,730.79 L401.37,731.82 L402.66,732.85 L403.95,733.87 L405.25,734.88 L406.55,735.88 L407.86,736.88 L409.16,737.87 L410.47,738.85 L411.79,739.82 L413.10,740.79 L414.42,741.75 L415.74,742.70 L417.07,743.64 L418.39,744.58 L419.72,745.51 L421.06,746.43 L422.39,747.34 L423.73,748.25 L425.07,749.15 L426.42,750.04 L427.77,750.93 L429.12,751.80 L430.47,752.68 L431.83,753.54 L433.18,754.40 L434.55,755.25 L435.91,756.09 L437.28,756.92 L438.65,757.75 L440.02,758.58 L441.40,759.39 L442.78,760.20 L444.16,761.00 L445.54,761.80 L446.93,762.58 L448.32,763.37 L449.72,764.14 L451.11,764.91 L452.51,765.67 L453.91,766.43 L455.32,767.17 L456.72,767.92 L458.13,768.65 L459.54,769.38 L460.96,770.11 L462.38,770.82 L463.80,771.53 L465.22,772.24 L466.65,772.94 L468.08,773.63 L469.51,774.32 L470.95,775.00 L472.38,775.67 L473.82,776.34 L475.27,777.00 L476.71,777.66 L478.16,778.31 L479.61,778.95 L481.07,779.59 L482.52,780.22 L483.98,780.85 L485.44,781.47 L486.91,782.08 L488.38,782.69 L489.85,783.30 L491.32,783.90 L492.80,784.49 L494.27,785.08 L495.75,785.66 L497.24,786.24 L498.73,786.81 L500.21,787.38 L501.71,787.94 L503.20,788.49 L504.70,789.04 L506.20,789.59 L507.70,790.13 L509.21,790.66 L510.71,791.19 L512.22,791.72 L513.74,792.23 L515.25,792.75 L516.77,793.26 L518.29,793.76 L519.82,794.26 L521.34,794.76 L522.87,795.25 L524.40,795.73 L525.94,796.21 L527.48,796.69 L529.02,797.16 L530.56,797.63 L532.10,798.09 L533.65,798.55 L535.20,799.00 L536.75,799.45 L538.31,799.89 L539.87,800.33 L541.43,800.76 L542.99,801.19 L544.56,801.62 L546.12,802.04 L547.70,802.46 L549.27,802.87 L550.85,803.28 L552.42,803.69 L554.01,804.09 L555.59,804.48 L557.18,804.88 L558.76,805.27 L560.36,805.65 L561.95,806.03 L563.55,806.41 L565.15,806.78 L566.75,807.15 L568.35,807.51 L569.96,807.87 L571.57,808.23 L573.18,808.59 L574.80,808.94 L576.41,809.28 L578.03,809.62 L579.66,809.96 L581.28,810.30 L582.91,810.63 L584.54,810.96 L586.17,811.28 L587.81,811.60 L589.44,811.92 L591.08,812.24 L592.73,812.55 L594.37,812.85 L596.02,813.16 L597.67,813.46 L599.32,813.76 L600.98,814.05 L602.63,814.34 L604.29,814.63 L605.96,814.92 L607.62,815.20 L609.29,815.48 L610.96,815.75 L612.63,816.02 L614.31,816.29 L615.98,816.56 L617.66,816.82 L619.35,817.09 L621.03,817.34 L622.72,817.60 L624.41,817.85 L626.10,818.10 L627.80,818.35 L629.49,818.59 L631.19,818.83 L632.89,819.07 L634.60,819.30 L636.31,819.54 L638.02,819.77 L639.73,819.99 L641.44,820.22 L643.16,820.44 L644.88,820.66 L646.60,820.88 L648.32,821.09 L650.05,821.30 L651.78,821.51 L653.51,821.72 L655.25,821.93 L656.98,822.13 L658.72,822.33 L660.46,822.53 L662.21,822.72 L663.95,822.92 L665.70,823.11 L667.45,823.30 L669.20,823.48 L670.96,823.67 L672.72,823.85 L674.48,824.03 L676.24,824.21 L678.01,824.38 L679.78,824.56 L681.55,824.73 L683.32,824.90 L685.09,825.06 L686.87,825.23 L688.65,825.39 L690.43,825.56 L692.22,825.71 L694.00,825.87 L695.79,826.03 L697.58,826.18 L699.38,826.33 L701.17,826.48 L702.97,826.63 L704.77,826.78 L706.58,826.92 L708.38,827.07 L710.19,827.21 L712.00,827.35 L713.82,827.49 L715.63,827.62 L717.45,827.76 L719.27,827.89 L721.09,828.02 L722.92,828.15 L724.74,828.28 L726.57,828.40 L728.40,828.53 L730.24,828.65 L732.07,828.77 L733.91,828.89 L735.75,829.01 L737.60,829.13 L739.44,829.25 L741.29,829.36 L743.14,829.47 L744.99,829.58 L746.85,829.69 L748.71,829.80 L750.57,829.91 L752.43,830.02 L754.29,830.12 L756.16,830.22 L758.03,830.32 L759.90,830.43 L761.77,830.52 L763.65,830.62 L765.53,830.72 L767.41,830.81 L769.29,830.91 L771.17,831.00 L773.06,831.09 L774.95,831.18 L776.84,831.27 L778.74,831.36 L780.63,831.45 L782.53,831.54 L784.43,831.62 L786.34,831.70 L788.24,831.79 L790.15,831.87 L792.06,831.95 L793.97,832.03 L795.89,832.11 L797.80,832.18 L799.72,832.26 L801.65,832.34 L803.57,832.41 L805.49,832.48 L807.42,832.56 L809.35,832.63 L811.29,832.70 L813.22,832.77 L815.16,832.84 L817.10,832.90 L819.04,832.97 L820.98,833.04 L822.93,833.10 L824.88,833.17 L826.83,833.23 L828.78,833.29 L830.74,833.35 L832.70,833.41 L834.66,833.47 L836.62,833.53 L838.58,833.59 L840.55,833.65 L842.52,833.71 L844.49,833.76 L846.46,833.82 L848.44,833.87 L850.42,833.92 L852.40,833.98 L854.38,834.03 L856.36,834.08 L858.35,834.13 L860.34,834.18 L862.33,834.23 L864.32,834.28 L866.32,834.33 L868.31,834.38 L870.31,834.42 L872.32,834.47 L874.32,834.51 L876.33,834.56 L878.34,834.60 L880.35,834.65 L882.36,834.69 L884.37,834.73 L886.39,834.77 L888.41,834.82 L890.43,834.86 L892.46,834.90 L894.48,834.94 L896.51,834.97 L898.54,835.01 L900.57,835.05 L902.61,835.09 L904.65,835.12 L906.69,835.16 L908.73,835.20 L910.77,835.23 L912.82,835.27 L914.87,835.30 L916.92,835.33 L918.97,835.37 L921.02,835.40 L923.08,835.43 L925.14,835.46 L927.20,835.50 L929.26,835.53 L931.33,835.56 L933.39,835.59 L935.46,835.62 L937.54,835.65 L939.61,835.68 L941.69,835.70 L943.76,835.73 L945.85,835.76 L947.93,835.79 L950.01,835.81 L952.10,835.84 L954.19,835.87 L956.28,835.89 L958.37,835.92 L960.47,835.94 L962.57,835.97 L964.67,835.99 L966.77,836.01 L968.87,836.04 L970.98,836.06 L973.09,836.08 L975.20,836.10 L977.31,836.13 L979.42,836.15 L981.54,836.17 L983.66,836.19 L985.78,836.21" fill="none" stroke="#cc0000" stroke-width="9" stroke-linecap="round" stroke-linejoin="round" stroke-dasharray="38.6 21.07 2 21.07 2 21.07" stroke-dashoffset="-2"/>
<path d="M190.00,22.30 L190.03,22.83 L190.09,23.91 L190.17,25.37 L190.26,27.16 L190.38,29.23 L190.50,31.56 L190.64,34.11 L190.80,36.89 L190.96,39.86 L191.14,43.01 L191.32,46.34 L191.52,49.82 L191.73,53.46 L191.95,57.24 L192.18,61.16 L192.41,65.19 L192.66,69.35 L192.91,73.61 L193.18,77.98 L193.45,82.44 L193.73,87.00 L194.01,91.63 L194.31,96.34 L194.61,101.13 L194.93,105.98 L195.24,110.90 L195.57,115.87 L195.90,120.89 L196.25,125.96 L196.59,131.07 L196.95,136.22 L197.31,141.41 L197.68,146.63 L198.06,151.87 L198.44,157.14 L198.83,162.43 L199.22,167.73 L199.63,173.05 L200.03,178.38 L200.45,183.72 L200.87,189.06 L201.30,194.41 L201.73,199.75 L202.17,205.09 L202.62,210.43 L203.07,215.75 L203.52,221.07 L203.99,226.38 L204.46,231.67 L204.93,236.95 L205.41,242.21 L205.90,247.46 L206.39,252.68 L206.89,257.88 L207.39,263.06 L207.90,268.21 L208.41,273.34 L208.93,278.44 L209.46,283.51 L209.99,288.55 L210.52,293.57 L211.07,298.55 L211.61,303.50 L212.16,308.42 L212.72,313.30 L213.28,318.15 L213.85,322.96 L214.42,327.75 L215.00,332.49 L215.58,337.20 L216.17,341.87 L216.76,346.50 L217.36,351.10 L217.96,355.66 L218.57,360.18 L219.18,364.67 L219.79,369.11 L220.42,373.52 L221.04,377.89 L221.67,382.22 L222.31,386.51 L222.95,390.76 L223.60,394.97 L224.25,399.15 L224.90,403.28 L225.56,407.38 L226.22,411.44 L226.89,415.46 L227.56,419.44 L228.24,423.38 L228.92,427.28 L229.61,431.15 L230.30,434.98 L231.00,438.77 L231.70,442.52 L232.40,446.24 L233.11,449.92 L233.82,453.57 L234.54,457.17 L235.26,460.74 L235.99,464.28 L236.72,467.78 L237.46,471.24 L238.20,474.67 L238.94,478.07 L239.69,481.43 L240.44,484.75 L241.20,488.05 L241.96,491.31 L242.72,494.53 L243.49,497.73 L244.26,500.89 L245.04,504.02 L245.82,507.12 L246.61,510.18 L247.40,513.22 L248.19,516.22 L248.99,519.20 L249.79,522.14 L250.60,525.06 L251.41,527.94 L252.22,530.80 L253.04,533.63 L253.86,536.43 L254.69,539.20 L255.52,541.95 L256.35,544.66 L257.19,547.35 L258.03,550.02 L258.87,552.66 L259.72,555.27 L260.58,557.85 L261.44,560.41 L262.30,562.95 L263.16,565.46 L264.03,567.95 L264.90,570.41 L265.78,572.85 L266.66,575.27 L267.55,577.66 L268.43,580.03 L269.33,582.38 L270.22,584.70 L271.12,587.01 L272.02,589.29 L272.93,591.55 L273.84,593.79 L274.76,596.01 L275.67,598.20 L276.60,600.38 L277.52,602.54 L278.45,604.68 L279.38,606.79 L280.32,608.89 L281.26,610.97 L282.20,613.03 L283.15,615.07 L284.10,617.10 L285.06,619.10 L286.02,621.09 L286.98,623.06 L287.94,625.01 L288.91,626.95 L289.89,628.87 L290.86,630.77 L291.84,632.65 L292.82,634.52 L293.81,636.37 L294.80,638.21 L295.80,640.03 L296.79,641.84 L297.79,643.62 L298.80,645.40 L299.81,647.16 L300.82,648.90 L301.83,650.63 L302.85,652.34 L303.87,654.04 L304.90,655.73 L305.93,657.40 L306.96,659.06 L308.00,660.70 L309.03,662.33 L310.08,663.95 L311.12,665.55 L312.17,667.14 L313.22,668.72 L314.28,670.28 L315.34,671.83 L316.40,673.37 L317.47,674.89 L318.54,676.41 L319.61,677.91 L320.69,679.40 L321.77,680.87 L322.85,682.34 L323.94,683.79 L325.03,685.23 L326.12,686.66 L327.21,688.08 L328.31,689.48 L329.42,690.88 L330.52,692.26 L331.63,693.63 L332.74,694.99 L333.86,696.34 L334.98,697.68 L336.10,699.01 L337.23,700.33 L338.35,701.64 L339.49,702.93 L340.62,704.22 L341.76,705.50 L342.90,706.76 L344.05,708.02 L345.19,709.27 L346.35,710.50 L347.50,711.73 L348.66,712.94 L349.82,714.15 L350.98,715.35 L352.15,716.53 L353.32,717.71 L354.49,718.88 L355.67,720.04 L356.85,721.19 L358.03,722.33 L359.22,723.46 L360.41,724.58 L361.60,725.69 L362.79,726.80 L363.99,727.89 L365.19,728.98 L366.40,730.05 L367.61,731.12 L368.82,732.18 L370.03,733.23 L371.25,734.27 L372.47,735.31 L373.69,736.33 L374.92,737.35 L376.15,738.36 L377.38,739.36 L378.61,740.35 L379.85,741.34 L381.09,742.31 L382.34,743.28 L383.59,744.24 L384.84,745.19 L386.09,746.13 L387.35,747.07 L388.61,748.00 L389.87,748.92 L391.13,749.83 L392.40,750.74 L393.67,751.63 L394.95,752.52 L396.23,753.41 L397.51,754.28 L398.79,755.15 L400.08,756.01 L401.37,756.86 L402.66,757.71 L403.95,758.55 L405.25,759.38 L406.55,760.20 L407.86,761.02 L409.16,761.83 L410.47,762.63 L411.79,763.43 L413.10,764.21 L414.42,765.00 L415.74,765.77 L417.07,766.54 L418.39,767.30 L419.72,768.06 L421.06,768.80 L422.39,769.55 L423.73,770.28 L425.07,771.01 L426.42,771.73 L427.77,772.45 L429.12,773.15 L430.47,773.86 L431.83,774.55 L433.18,775.24 L434.55,775.93 L435.91,776.61 L437.28,777.28 L438.65,777.94 L440.02,778.60 L441.40,779.25 L442.78,779.90 L444.16,780.54 L445.54,781.18 L446.93,781.81 L448.32,782.43 L449.72,783.05 L451.11,783.66 L452.51,784.27 L453.91,784.87 L455.32,785.46 L456.72,786.05 L458.13,786.63 L459.54,787.21 L460.96,787.78 L462.38,788.35 L463.80,788.91 L465.22,789.47 L466.65,790.02 L468.08,790.56 L469.51,791.11 L470.95,791.64 L472.38,792.17 L473.82,792.69 L475.27,793.21 L476.71,793.73 L478.16,794.24 L479.61,794.74 L481.07,795.24 L482.52,795.74 L483.98,796.23 L485.44,796.71 L486.91,797.19 L488.38,797.67 L489.85,798.14 L491.32,798.60 L492.80,799.06 L494.27,799.52 L495.75,799.97 L497.24,800.42 L498.73,800.86 L500.21,801.30 L501.71,801.73 L503.20,802.16 L504.70,802.59 L506.20,803.01 L507.70,803.42 L509.21,803.83 L510.71,804.24 L512.22,804.64 L513.74,805.04 L515.25,805.44 L516.77,805.83 L518.29,806.22 L519.82,806.60 L521.34,806.98 L522.87,807.35 L524.40,807.72 L525.94,808.09 L527.48,808.45 L529.02,808.81 L530.56,809.16 L532.10,809.52 L533.65,809.86 L535.20,810.21 L536.75,810.55 L538.31,810.88 L539.87,811.21 L541.43,811.54 L542.99,811.87 L544.56,812.19 L546.12,812.51 L547.70,812.82 L549.27,813.14 L550.85,813.44 L552.42,813.75 L554.01,814.05 L555.59,814.35 L557.18,814.64 L558.76,814.93 L560.36,815.22 L561.95,815.51 L563.55,815.79 L565.15,816.07 L566.75,816.34 L568.35,816.61 L569.96,816.88 L571.57,817.15 L573.18,817.41 L574.80,817.67 L576.41,817.93 L578.03,818.18 L579.66,818.43 L581.28,818.68 L582.91,818.93 L584.54,819.17 L586.17,819.41 L587.81,819.65 L589.44,819.88 L591.08,820.11 L592.73,820.34 L594.37,820.57 L596.02,820.79 L597.67,821.01 L599.32,821.23 L600.98,821.45 L602.63,821.66 L604.29,821.87 L605.96,822.08 L607.62,822.29 L609.29,822.49 L610.96,822.69 L612.63,822.89 L614.31,823.08 L615.98,823.28 L617.66,823.47 L619.35,823.66 L621.03,823.85 L622.72,824.03 L624.41,824.21 L626.10,824.39 L627.80,824.57 L629.49,824.75 L631.19,824.92 L632.89,825.09 L634.60,825.26 L636.31,825.43 L638.02,825.59 L639.73,825.76 L641.44,825.92 L643.16,826.08 L644.88,826.24 L646.60,826.39 L648.32,826.54 L650.05,826.70 L651.78,826.85 L653.51,826.99 L655.25,827.14 L656.98,827.28 L658.72,827.43 L660.46,827.57 L662.21,827.70 L663.95,827.84 L665.70,827.98 L667.45,828.11 L669.20,828.24 L670.96,828.37 L672.72,828.50 L674.48,828.63 L676.24,828.75 L678.01,828.88 L679.78,829.00 L681.55,829.12 L683.32,829.24 L685.09,829.36 L686.87,829.47 L688.65,829.59 L690.43,829.70 L692.22,829.81 L694.00,829.92 L695.79,830.03 L697.58,830.14 L699.38,830.24 L701.17,830.35 L702.97,830.45 L704.77,830.55 L706.58,830.65 L708.38,830.75 L710.19,830.85 L712.00,830.95 L713.82,831.04 L715.63,831.13 L717.45,831.23 L719.27,831.32 L721.09,831.41 L722.92,831.50 L724.74,831.59 L726.57,831.67 L728.40,831.76 L730.24,831.84 L732.07,831.93 L733.91,832.01 L735.75,832.09 L737.60,832.17 L739.44,832.25 L741.29,832.32 L743.14,832.40 L744.99,832.48 L746.85,832.55 L748.71,832.63 L750.57,832.70 L752.43,832.77 L754.29,832.84 L756.16,832.91 L758.03,832.98 L759.90,833.05 L761.77,833.11 L763.65,833.18 L765.53,833.24 L767.41,833.31 L769.29,833.37 L771.17,833.43 L773.06,833.49 L774.95,833.56 L776.84,833.62 L778.74,833.67 L780.63,833.73 L782.53,833.79 L784.43,833.85 L786.34,833.90 L788.24,833.96 L790.15,834.01 L792.06,834.06 L793.97,834.12 L795.89,834.17 L797.80,834.22 L799.72,834.27 L801.65,834.32 L803.57,834.37 L805.49,834.42 L807.42,834.46 L809.35,834.51 L811.29,834.56 L813.22,834.60 L815.16,834.65 L817.10,834.69 L819.04,834.74 L820.98,834.78 L822.93,834.82 L824.88,834.86 L826.83,834.90 L828.78,834.95 L830.74,834.99 L832.70,835.02 L834.66,835.06 L836.62,835.10 L838.58,835.14 L840.55,835.18 L842.52,835.21 L844.49,835.25 L846.46,835.28 L848.44,835.32 L850.42,835.35 L852.40,835.39 L854.38,835.42 L856.36,835.45 L858.35,835.49 L860.34,835.52 L862.33,835.55 L864.32,835.58 L866.32,835.61 L868.31,835.64 L870.31,835.67 L872.32,835.70 L874.32,835.73 L876.33,835.76 L878.34,835.79 L880.35,835.81 L882.36,835.84 L884.37,835.87 L886.39,835.89 L888.41,835.92 L890.43,835.95 L892.46,835.97 L894.48,836.00 L896.51,836.02 L898.54,836.04 L900.57,836.07 L902.61,836.09 L904.65,836.11 L906.69,836.14 L908.73,836.16 L910.77,836.18 L912.82,836.20 L914.87,836.22 L916.92,836.25 L918.97,836.27 L921.02,836.29 L923.08,836.31 L925.14,836.33 L927.20,836.35 L929.26,836.36 L931.33,836.38 L933.39,836.40 L935.46,836.42 L937.54,836.44 L939.61,836.46 L941.69,836.47 L943.76,836.49 L945.85,836.51 L947.93,836.52 L950.01,836.54 L952.10,836.56 L954.19,836.57 L956.28,836.59 L958.37,836.60 L960.47,836.62 L962.57,836.63 L964.67,836.65 L966.77,836.66 L968.87,836.67 L970.98,836.69 L973.09,836.70 L975.20,836.72 L977.31,836.73 L979.42,836.74 L981.54,836.75 L983.66,836.77 L985.78,836.78" fill="none" stroke="#3030ff" stroke-width="9" stroke-linecap="round" stroke-linejoin="round" stroke-dasharray="38.6 21.07 2 21.07 2 21.07" stroke-dashoffset="-2"/>
<path d="M190.00,22.30 L190.03,22.84 L190.09,23.95 L190.17,25.45 L190.26,27.28 L190.38,29.40 L190.50,31.78 L190.64,34.40 L190.80,37.24 L190.96,40.28 L191.14,43.51 L191.32,46.92 L191.52,50.49 L191.73,54.22 L191.95,58.10 L192.18,62.11 L192.41,66.25 L192.66,70.51 L192.91,74.89 L193.18,79.37 L193.45,83.95 L193.73,88.62 L194.01,93.38 L194.31,98.22 L194.61,103.13 L194.93,108.12 L195.24,113.17 L195.57,118.28 L195.90,123.44 L196.25,128.65 L196.59,133.91 L196.95,139.21 L197.31,144.55 L197.68,149.91 L198.06,155.31 L198.44,160.74 L198.83,166.18 L199.22,171.65 L199.63,177.12 L200.03,182.62 L200.45,188.12 L200.87,193.62 L201.30,199.13 L201.73,204.64 L202.17,210.15 L202.62,215.65 L203.07,221.15 L203.52,226.64 L203.99,232.12 L204.46,237.58 L204.93,243.03 L205.41,248.47 L205.90,253.88 L206.39,259.28 L206.89,264.65 L207.39,270.00 L207.90,275.33 L208.41,280.62 L208.93,285.90 L209.46,291.14 L209.99,296.36 L210.52,301.54 L211.07,306.69 L211.61,311.81 L212.16,316.90 L212.72,321.95 L213.28,326.97 L213.85,331.95 L214.42,336.90 L215.00,341.81 L215.58,346.68 L216.17,351.52 L216.76,356.31 L217.36,361.07 L217.96,365.79 L218.57,370.47 L219.18,375.11 L219.79,379.72 L220.42,384.28 L221.04,388.80 L221.67,393.28 L222.31,397.72 L222.95,402.12 L223.60,406.48 L224.25,410.80 L224.90,415.08 L225.56,419.32 L226.22,423.52 L226.89,427.67 L227.56,431.79 L228.24,435.87 L228.92,439.91 L229.61,443.91 L230.30,447.86 L231.00,451.78 L231.70,455.66 L232.40,459.50 L233.11,463.31 L233.82,467.07 L234.54,470.80 L235.26,474.48 L235.99,478.13 L236.72,481.74 L237.46,485.32 L238.20,488.85 L238.94,492.36 L239.69,495.82 L240.44,499.25 L241.20,502.64 L241.96,506.00 L242.72,509.32 L243.49,512.61 L244.26,515.86 L245.04,519.08 L245.82,522.27 L246.61,525.42 L247.40,528.54 L248.19,531.62 L248.99,534.68 L249.79,537.70 L250.60,540.69 L251.41,543.65 L252.22,546.58 L253.04,549.48 L253.86,552.34 L254.69,555.18 L255.52,557.99 L256.35,560.77 L257.19,563.52 L258.03,566.24 L258.87,568.93 L259.72,571.59 L260.58,574.23 L261.44,576.84 L262.30,579.43 L263.16,581.98 L264.03,584.51 L264.90,587.02 L265.78,589.50 L266.66,591.95 L267.55,594.38 L268.43,596.78 L269.33,599.16 L270.22,601.52 L271.12,603.85 L272.02,606.16 L272.93,608.45 L273.84,610.71 L274.76,612.95 L275.67,615.17 L276.60,617.36 L277.52,619.54 L278.45,621.69 L279.38,623.82 L280.32,625.93 L281.26,628.02 L282.20,630.09 L283.15,632.14 L284.10,634.17 L285.06,636.18 L286.02,638.17 L286.98,640.14 L287.94,642.09 L288.91,644.02 L289.89,645.93 L290.86,647.83 L291.84,649.71 L292.82,651.57 L293.81,653.41 L294.80,655.24 L295.80,657.04 L296.79,658.84 L297.79,660.61 L298.80,662.37 L299.81,664.11 L300.82,665.83 L301.83,667.54 L302.85,669.23 L303.87,670.91 L304.90,672.57 L305.93,674.22 L306.96,675.85 L308.00,677.47 L309.03,679.07 L310.08,680.65 L311.12,682.23 L312.17,683.78 L313.22,685.33 L314.28,686.86 L315.34,688.37 L316.40,689.87 L317.47,691.36 L318.54,692.84 L319.61,694.30 L320.69,695.75 L321.77,697.18 L322.85,698.60 L323.94,700.01 L325.03,701.41 L326.12,702.79 L327.21,704.17 L328.31,705.53 L329.42,706.87 L330.52,708.21 L331.63,709.53 L332.74,710.84 L333.86,712.14 L334.98,713.43 L336.10,714.71 L337.23,715.97 L338.35,717.23 L339.49,718.47 L340.62,719.70 L341.76,720.92 L342.90,722.13 L344.05,723.33 L345.19,724.52 L346.35,725.70 L347.50,726.87 L348.66,728.02 L349.82,729.17 L350.98,730.31 L352.15,731.43 L353.32,732.55 L354.49,733.66 L355.67,734.75 L356.85,735.84 L358.03,736.92 L359.22,737.98 L360.41,739.04 L361.60,740.09 L362.79,741.13 L363.99,742.16 L365.19,743.18 L366.40,744.19 L367.61,745.19 L368.82,746.18 L370.03,747.17 L371.25,748.14 L372.47,749.11 L373.69,750.07 L374.92,751.01 L376.15,751.95 L377.38,752.89 L378.61,753.81 L379.85,754.72 L381.09,755.63 L382.34,756.53 L383.59,757.42 L384.84,758.30 L386.09,759.17 L387.35,760.04 L388.61,760.90 L389.87,761.75 L391.13,762.59 L392.40,763.42 L393.67,764.25 L394.95,765.07 L396.23,765.88 L397.51,766.68 L398.79,767.47 L400.08,768.26 L401.37,769.04 L402.66,769.82 L403.95,770.58 L405.25,771.34 L406.55,772.09 L407.86,772.84 L409.16,773.58 L410.47,774.31 L411.79,775.03 L413.10,775.75 L414.42,776.46 L415.74,777.16 L417.07,777.85 L418.39,778.54 L419.72,779.23 L421.06,779.90 L422.39,780.57 L423.73,781.23 L425.07,781.89 L426.42,782.54 L427.77,783.18 L429.12,783.82 L430.47,784.45 L431.83,785.08 L433.18,785.69 L434.55,786.31 L435.91,786.91 L437.28,787.51 L438.65,788.11 L440.02,788.70 L441.40,789.28 L442.78,789.85 L444.16,790.42 L445.54,790.99 L446.93,791.55 L448.32,792.10 L449.72,792.65 L451.11,793.19 L452.51,793.73 L453.91,794.26 L455.32,794.78 L456.72,795.30 L458.13,795.82 L459.54,796.33 L460.96,796.83 L462.38,797.33 L463.80,797.83 L465.22,798.31 L466.65,798.80 L468.08,799.27 L469.51,799.75 L470.95,800.22 L472.38,800.68 L473.82,801.14 L475.27,801.59 L476.71,802.04 L478.16,802.48 L479.61,802.92 L481.07,803.36 L482.52,803.79 L483.98,804.21 L485.44,804.63 L486.91,805.05 L488.38,805.46 L489.85,805.86 L491.32,806.27 L492.80,806.66 L494.27,807.06 L495.75,807.45 L497.24,807.83 L498.73,808.21 L500.21,808.59 L501.71,808.96 L503.20,809.33 L504.70,809.69 L506.20,810.05 L507.70,810.41 L509.21,810.76 L510.71,811.11 L512.22,811.45 L513.74,811.79 L515.25,812.13 L516.77,812.46 L518.29,812.79 L519.82,813.11 L521.34,813.43 L522.87,813.75 L524.40,814.06 L525.94,814.37 L527.48,814.68 L529.02,814.98 L530.56,815.28 L532.10,815.58 L533.65,815.87 L535.20,816.16 L536.75,816.45 L538.31,816.73 L539.87,817.01 L541.43,817.28 L542.99,817.56 L544.56,817.82 L546.12,818.09 L547.70,818.35 L549.27,818.61 L550.85,818.87 L552.42,819.12 L554.01,819.37 L555.59,819.62 L557.18,819.86 L558.76,820.11 L560.36,820.34 L561.95,820.58 L563.55,820.81 L565.15,821.04 L566.75,821.27 L568.35,821.49 L569.96,821.72 L571.57,821.93 L573.18,822.15 L574.80,822.36 L576.41,822.57 L578.03,822.78 L579.66,822.99 L581.28,823.19 L582.91,823.39 L584.54,823.59 L586.17,823.79 L587.81,823.98 L589.44,824.17 L591.08,824.36 L592.73,824.54 L594.37,824.73 L596.02,824.91 L597.67,825.09 L599.32,825.26 L600.98,825.44 L602.63,825.61 L604.29,825.78 L605.96,825.95 L607.62,826.11 L609.29,826.28 L610.96,826.44 L612.63,826.60 L614.31,826.76 L615.98,826.91 L617.66,827.06 L619.35,827.21 L621.03,827.36 L622.72,827.51 L624.41,827.66 L626.10,827.80 L627.80,827.94 L629.49,828.08 L631.19,828.22 L632.89,828.35 L634.60,828.49 L636.31,828.62 L638.02,828.75 L639.73,828.88 L641.44,829.01 L643.16,829.13 L644.88,829.26 L646.60,829.38 L648.32,829.50 L650.05,829.62 L651.78,829.74 L653.51,829.85 L655.25,829.97 L656.98,830.08 L658.72,830.19 L660.46,830.30 L662.21,830.41 L663.95,830.51 L665.70,830.62 L667.45,830.72 L669.20,830.82 L670.96,830.93 L672.72,831.03 L674.48,831.12 L676.24,831.22 L678.01,831.32 L679.78,831.41 L681.55,831.50 L683.32,831.59 L685.09,831.68 L686.87,831.77 L688.65,831.86 L690.43,831.95 L692.22,832.03 L694.00,832.12 L695.79,832.20 L697.58,832.28 L699.38,832.36 L701.17,832.44 L702.97,832.52 L704.77,832.60 L706.58,832.67 L708.38,832.75 L710.19,832.82 L712.00,832.89 L713.82,832.97 L715.63,833.04 L717.45,833.11 L719.27,833.18 L721.09,833.24 L722.92,833.31 L724.74,833.38 L726.57,833.44 L728.40,833.50 L730.24,833.57 L732.07,833.63 L733.91,833.69 L735.75,833.75 L737.60,833.81 L739.44,833.87 L741.29,833.93 L743.14,833.98 L744.99,834.04 L746.85,834.10 L748.71,834.15 L750.57,834.20 L752.43,834.26 L754.29,834.31 L756.16,834.36 L758.03,834.41 L759.90,834.46 L761.77,834.51 L763.65,834.56 L765.53,834.60 L767.41,834.65 L769.29,834.70 L771.17,834.74 L773.06,834.79 L774.95,834.83 L776.84,834.88 L778.74,834.92 L780.63,834.96 L782.53,835.00 L784.43,835.04 L786.34,835.08 L788.24,835.12 L790.15,835.16 L792.06,835.20 L793.97,835.24 L795.89,835.27 L797.80,835.31 L799.72,835.35 L801.65,835.38 L803.57,835.42 L805.49,835.45 L807.42,835.49 L809.35,835.52 L811.29,835.55 L813.22,835.59 L815.16,835.62 L817.10,835.65 L819.04,835.68 L820.98,835.71 L822.93,835.74 L824.88,835.77 L826.83,835.80 L828.78,835.83 L830.74,835.85 L832.70,835.88 L834.66,835.91 L836.62,835.94 L838.58,835.96 L840.55,835.99 L842.52,836.01 L844.49,836.04 L846.46,836.06 L848.44,836.09 L850.42,836.11 L852.40,836.14 L854.38,836.16 L856.36,836.18 L858.35,836.21 L860.34,836.23 L862.33,836.25 L864.32,836.27 L866.32,836.29 L868.31,836.31 L870.31,836.33 L872.32,836.35 L874.32,836.37 L876.33,836.39 L878.34,836.41 L880.35,836.43 L882.36,836.45 L884.37,836.47 L886.39,836.48 L888.41,836.50 L890.43,836.52 L892.46,836.54 L894.48,836.55 L896.51,836.57 L898.54,836.59 L900.57,836.60 L902.61,836.62 L904.65,836.63 L906.69,836.65 L908.73,836.66 L910.77,836.68 L912.82,836.69 L914.87,836.71 L916.92,836.72 L918.97,836.73 L921.02,836.75 L923.08,836.76 L925.14,836.77 L927.20,836.79 L929.26,836.80 L931.33,836.81 L933.39,836.82 L935.46,836.84 L937.54,836.85 L939.61,836.86 L941.69,836.87 L943.76,836.88 L945.85,836.89 L947.93,836.90 L950.01,836.92 L952.10,836.93 L954.19,836.94 L956.28,836.95 L958.37,836.96 L960.47,836.97 L962.57,836.98 L964.67,836.98 L966.77,836.99 L968.87,837.00 L970.98,837.01 L973.09,837.02 L975.20,837.03 L977.31,837.04 L979.42,837.05 L981.54,837.06 L983.66,837.06 L985.78,837.07" fill="none" stroke="#00cc00" stroke-width="9" stroke-linecap="round" stroke-linejoin="round" stroke-dasharray="38.6 21.07 2 21.07 2 21.07" stroke-dashoffset="-2"/>
</g>
<g clip-path="url(#cb)">
<path d="M1201.00,22.30 L1201.03,22.56 L1201.09,23.09 L1201.17,23.81 L1201.26,24.69 L1201.38,25.71 L1201.50,26.86 L1201.64,28.12 L1201.80,29.50 L1201.96,30.97 L1202.14,32.54 L1202.32,34.20 L1202.52,35.95 L1202.73,37.78 L1202.95,39.69 L1203.18,41.67 L1203.41,43.72 L1203.66,45.83 L1203.91,48.01 L1204.18,50.26 L1204.45,52.56 L1204.73,54.91 L1205.01,57.32 L1205.31,59.78 L1205.61,62.29 L1205.93,64.85 L1206.24,67.45 L1206.57,70.10 L1206.90,72.78 L1207.25,75.50 L1207.59,78.27 L1207.95,81.06 L1208.31,83.89 L1208.68,86.76 L1209.06,89.65 L1209.44,92.57 L1209.83,95.52 L1210.22,98.50 L1210.63,101.50 L1211.03,104.53 L1211.45,107.58 L1211.87,110.65 L1212.30,113.74 L1212.73,116.85 L1213.17,119.98 L1213.62,123.12 L1214.07,126.28 L1214.52,129.46 L1214.99,132.65 L1215.46,135.85 L1215.93,139.07 L1216.41,142.30 L1216.90,145.54 L1217.39,148.78 L1217.89,152.04 L1218.39,155.31 L1218.90,158.58 L1219.41,161.86 L1219.93,165.15 L1220.46,168.44 L1220.99,171.74 L1221.52,175.04 L1222.07,178.35 L1222.61,181.66 L1223.16,184.97 L1223.72,188.29 L1224.28,191.61 L1224.85,194.93 L1225.42,198.25 L1226.00,201.57 L1226.58,204.89 L1227.17,208.21 L1227.76,211.53 L1228.36,214.86 L1228.96,218.17 L1229.57,221.49 L1230.18,224.81 L1230.79,228.12 L1231.42,231.43 L1232.04,234.74 L1232.67,238.05 L1233.31,241.35 L1233.95,244.65 L1234.60,247.94 L1235.25,251.23 L1235.90,254.52 L1236.56,257.80 L1237.22,261.08 L1237.89,264.35 L1238.56,267.62 L1239.24,270.88 L1239.92,274.14 L1240.61,277.39 L1241.30,280.64 L1242.00,283.88 L1242.70,287.11 L1243.40,290.34 L1244.11,293.56 L1244.82,296.77 L1245.54,299.98 L1246.26,303.18 L1246.99,306.38 L1247.72,309.57 L1248.46,312.75 L1249.20,315.92 L1249.94,319.09 L1250.69,322.25 L1251.44,325.40 L1252.20,328.54 L1252.96,331.68 L1253.72,334.81 L1254.49,337.93 L1255.26,341.04 L1256.04,344.15 L1256.82,347.24 L1257.61,350.33 L1258.40,353.41 L1259.19,356.48 L1259.99,359.55 L1260.79,362.60 L1261.60,365.65 L1262.41,368.69 L1263.22,371.72 L1264.04,374.74 L1264.86,377.75 L1265.69,380.75 L1266.52,383.74 L1267.35,386.73 L1268.19,389.70 L1269.03,392.67 L1269.87,395.63 L1270.72,398.58 L1271.58,401.51 L1272.44,404.44 L1273.30,407.36 L1274.16,410.27 L1275.03,413.17 L1275.90,416.06 L1276.78,418.94 L1277.66,421.82 L1278.55,424.68 L1279.43,427.53 L1280.33,430.37 L1281.22,433.20 L1282.12,436.02 L1283.02,438.83 L1283.93,441.64 L1284.84,444.43 L1285.76,447.21 L1286.67,449.98 L1287.60,452.74 L1288.52,455.49 L1289.45,458.23 L1290.38,460.96 L1291.32,463.68 L1292.26,466.38 L1293.20,469.08 L1294.15,471.77 L1295.10,474.44 L1296.06,477.11 L1297.02,479.76 L1297.98,482.40 L1298.94,485.04 L1299.91,487.66 L1300.89,490.27 L1301.86,492.87 L1302.84,495.46 L1303.82,498.03 L1304.81,500.60 L1305.80,503.15 L1306.80,505.70 L1307.79,508.23 L1308.79,510.75 L1309.80,513.26 L1310.81,515.76 L1311.82,518.25 L1312.83,520.72 L1313.85,523.18 L1314.87,525.64 L1315.90,528.08 L1316.93,530.51 L1317.96,532.92 L1319.00,535.33 L1320.03,537.72 L1321.08,540.11 L1322.12,542.48 L1323.17,544.84 L1324.22,547.18 L1325.28,549.52 L1326.34,551.84 L1327.40,554.16 L1328.47,556.46 L1329.54,558.74 L1330.61,561.02 L1331.69,563.28 L1332.77,565.54 L1333.85,567.78 L1334.94,570.01 L1336.03,572.22 L1337.12,574.43 L1338.21,576.62 L1339.31,578.80 L1340.42,580.97 L1341.52,583.13 L1342.63,585.27 L1343.74,587.40 L1344.86,589.52 L1345.98,591.63 L1347.10,593.73 L1348.23,595.81 L1349.35,597.88 L1350.49,599.94 L1351.62,601.99 L1352.76,604.03 L1353.90,606.05 L1355.05,608.06 L1356.19,610.06 L1357.35,612.05 L1358.50,614.03 L1359.66,615.99 L1360.82,617.94 L1361.98,619.88 L1363.15,621.81 L1364.32,623.72 L1365.49,625.63 L1366.67,627.52 L1367.85,629.40 L1369.03,631.27 L1370.22,633.12 L1371.41,634.97 L1372.60,636.80 L1373.79,638.62 L1374.99,640.43 L1376.19,642.22 L1377.40,644.01 L1378.61,645.78 L1379.82,647.54 L1381.03,649.29 L1382.25,651.02 L1383.47,652.75 L1384.69,654.46 L1385.92,656.17 L1387.15,657.86 L1388.38,659.53 L1389.61,661.20 L1390.85,662.86 L1392.09,664.50 L1393.34,666.13 L1394.59,667.75 L1395.84,669.36 L1397.09,670.96 L1398.35,672.55 L1399.61,674.12 L1400.87,675.69 L1402.13,677.24 L1403.40,678.78 L1404.67,680.31 L1405.95,681.83 L1407.23,683.33 L1408.51,684.83 L1409.79,686.32 L1411.08,687.79 L1412.37,689.25 L1413.66,690.70 L1414.95,692.15 L1416.25,693.58 L1417.55,694.99 L1418.86,696.40 L1420.16,697.80 L1421.47,699.19 L1422.79,700.56 L1424.10,701.93 L1425.42,703.28 L1426.74,704.63 L1428.07,705.96 L1429.39,707.28 L1430.72,708.60 L1432.06,709.90 L1433.39,711.19 L1434.73,712.47 L1436.07,713.74 L1437.42,715.00 L1438.77,716.25 L1440.12,717.50 L1441.47,718.73 L1442.83,719.95 L1444.18,721.16 L1445.55,722.36 L1446.91,723.55 L1448.28,724.73 L1449.65,725.90 L1451.02,727.06 L1452.40,728.21 L1453.78,729.35 L1455.16,730.48 L1456.54,731.61 L1457.93,732.72 L1459.32,733.82 L1460.72,734.92 L1462.11,736.00 L1463.51,737.08 L1464.91,738.14 L1466.32,739.20 L1467.72,740.25 L1469.13,741.29 L1470.54,742.32 L1471.96,743.34 L1473.38,744.35 L1474.80,745.35 L1476.22,746.34 L1477.65,747.33 L1479.08,748.31 L1480.51,749.27 L1481.95,750.23 L1483.38,751.18 L1484.82,752.12 L1486.27,753.06 L1487.71,753.98 L1489.16,754.90 L1490.61,755.80 L1492.07,756.70 L1493.52,757.60 L1494.98,758.48 L1496.44,759.35 L1497.91,760.22 L1499.38,761.08 L1500.85,761.93 L1502.32,762.77 L1503.80,763.61 L1505.27,764.44 L1506.75,765.26 L1508.24,766.07 L1509.73,766.87 L1511.21,767.67 L1512.71,768.46 L1514.20,769.24 L1515.70,770.01 L1517.20,770.78 L1518.70,771.54 L1520.21,772.29 L1521.71,773.03 L1523.22,773.77 L1524.74,774.50 L1526.25,775.22 L1527.77,775.94 L1529.29,776.65 L1530.82,777.35 L1532.34,778.05 L1533.87,778.73 L1535.40,779.42 L1536.94,780.09 L1538.48,780.76 L1540.02,781.42 L1541.56,782.08 L1543.10,782.72 L1544.65,783.37 L1546.20,784.00 L1547.75,784.63 L1549.31,785.25 L1550.87,785.87 L1552.43,786.48 L1553.99,787.08 L1555.56,787.68 L1557.12,788.27 L1558.70,788.86 L1560.27,789.44 L1561.85,790.01 L1563.42,790.58 L1565.01,791.14 L1566.59,791.69 L1568.18,792.24 L1569.76,792.79 L1571.36,793.33 L1572.95,793.86 L1574.55,794.39 L1576.15,794.91 L1577.75,795.43 L1579.35,795.94 L1580.96,796.44 L1582.57,796.94 L1584.18,797.44 L1585.80,797.93 L1587.41,798.41 L1589.03,798.89 L1590.66,799.36 L1592.28,799.83 L1593.91,800.30 L1595.54,800.76 L1597.17,801.21 L1598.81,801.66 L1600.44,802.10 L1602.08,802.54 L1603.73,802.98 L1605.37,803.41 L1607.02,803.83 L1608.67,804.25 L1610.32,804.67 L1611.98,805.08 L1613.63,805.49 L1615.29,805.89 L1616.96,806.29 L1618.62,806.68 L1620.29,807.07 L1621.96,807.45 L1623.63,807.83 L1625.31,808.21 L1626.98,808.58 L1628.66,808.95 L1630.35,809.31 L1632.03,809.67 L1633.72,810.03 L1635.41,810.38 L1637.10,810.73 L1638.80,811.07 L1640.49,811.41 L1642.19,811.74 L1643.89,812.08 L1645.60,812.40 L1647.31,812.73 L1649.02,813.05 L1650.73,813.36 L1652.44,813.68 L1654.16,813.99 L1655.88,814.29 L1657.60,814.60 L1659.32,814.89 L1661.05,815.19 L1662.78,815.48 L1664.51,815.77 L1666.25,816.05 L1667.98,816.34 L1669.72,816.61 L1671.46,816.89 L1673.21,817.16 L1674.95,817.43 L1676.70,817.70 L1678.45,817.96 L1680.20,818.22 L1681.96,818.47 L1683.72,818.73 L1685.48,818.98 L1687.24,819.22 L1689.01,819.47 L1690.78,819.71 L1692.55,819.95 L1694.32,820.18 L1696.09,820.41 L1697.87,820.64 L1699.65,820.87 L1701.43,821.10 L1703.22,821.32 L1705.00,821.54 L1706.79,821.75 L1708.58,821.97 L1710.38,822.18 L1712.17,822.38 L1713.97,822.59 L1715.77,822.79 L1717.58,822.99 L1719.38,823.19 L1721.19,823.39 L1723.00,823.58 L1724.82,823.77 L1726.63,823.96 L1728.45,824.15 L1730.27,824.33 L1732.09,824.51 L1733.92,824.69 L1735.74,824.87 L1737.57,825.04 L1739.40,825.21 L1741.24,825.39 L1743.07,825.55 L1744.91,825.72 L1746.75,825.88 L1748.60,826.05 L1750.44,826.21 L1752.29,826.36 L1754.14,826.52 L1755.99,826.67 L1757.85,826.82 L1759.71,826.97 L1761.57,827.12 L1763.43,827.27 L1765.29,827.41 L1767.16,827.56 L1769.03,827.70 L1770.90,827.83 L1772.77,827.97 L1774.65,828.11 L1776.53,828.24 L1778.41,828.37 L1780.29,828.50 L1782.17,828.63 L1784.06,828.76 L1785.95,828.88 L1787.84,829.00 L1789.74,829.13 L1791.63,829.25 L1793.53,829.36 L1795.43,829.48 L1797.34,829.60 L1799.24,829.71 L1801.15,829.82 L1803.06,829.93 L1804.97,830.04 L1806.89,830.15 L1808.80,830.26 L1810.72,830.36 L1812.65,830.47 L1814.57,830.57 L1816.49,830.67 L1818.42,830.77 L1820.35,830.87 L1822.29,830.96 L1824.22,831.06 L1826.16,831.15 L1828.10,831.25 L1830.04,831.34 L1831.98,831.43 L1833.93,831.52 L1835.88,831.61 L1837.83,831.69 L1839.78,831.78 L1841.74,831.86 L1843.70,831.95 L1845.66,832.03 L1847.62,832.11 L1849.58,832.19 L1851.55,832.27 L1853.52,832.35 L1855.49,832.42 L1857.46,832.50 L1859.44,832.58 L1861.42,832.65 L1863.40,832.72 L1865.38,832.79 L1867.36,832.86 L1869.35,832.93 L1871.34,833.00 L1873.33,833.07 L1875.32,833.14 L1877.32,833.20 L1879.31,833.27 L1881.31,833.33 L1883.32,833.39 L1885.32,833.46 L1887.33,833.52 L1889.34,833.58 L1891.35,833.64 L1893.36,833.70 L1895.37,833.75 L1897.39,833.81 L1899.41,833.87 L1901.43,833.92 L1903.46,833.98 L1905.48,834.03 L1907.51,834.08 L1909.54,834.14 L1911.57,834.19 L1913.61,834.24 L1915.65,834.29 L1917.69,834.34 L1919.73,834.39 L1921.77,834.44 L1923.82,834.48 L1925.87,834.53 L1927.92,834.58 L1929.97,834.62 L1932.02,834.67 L1934.08,834.71 L1936.14,834.75 L1938.20,834.80 L1940.26,834.84 L1942.33,834.88 L1944.39,834.92 L1946.46,834.96 L1948.54,835.00 L1950.61,835.04 L1952.69,835.08 L1954.76,835.12 L1956.85,835.15 L1958.93,835.19 L1961.01,835.23 L1963.10,835.26 L1965.19,835.30 L1967.28,835.33 L1969.37,835.37 L1971.47,835.40 L1973.57,835.43 L1975.67,835.47 L1977.77,835.50 L1979.87,835.53 L1981.98,835.56 L1984.09,835.59 L1986.20,835.62 L1988.31,835.65 L1990.42,835.68 L1992.54,835.71 L1994.66,835.74 L1996.78,835.77" fill="none" stroke="#cc0000" stroke-width="9" stroke-linecap="round" stroke-linejoin="round"/>
<path d="M1201.00,22.30 L1201.03,22.61 L1201.09,23.23 L1201.17,24.09 L1201.26,25.13 L1201.38,26.33 L1201.50,27.69 L1201.64,29.19 L1201.80,30.82 L1201.96,32.56 L1202.14,34.43 L1202.32,36.39 L1202.52,38.46 L1202.73,40.63 L1202.95,42.89 L1203.18,45.24 L1203.41,47.67 L1203.66,50.18 L1203.91,52.76 L1204.18,55.42 L1204.45,58.15 L1204.73,60.95 L1205.01,63.81 L1205.31,66.73 L1205.61,69.71 L1205.93,72.74 L1206.24,75.83 L1206.57,78.97 L1206.90,82.16 L1207.25,85.39 L1207.59,88.67 L1207.95,91.99 L1208.31,95.35 L1208.68,98.75 L1209.06,102.18 L1209.44,105.65 L1209.83,109.16 L1210.22,112.69 L1210.63,116.25 L1211.03,119.84 L1211.45,123.46 L1211.87,127.10 L1212.30,130.77 L1212.73,134.45 L1213.17,138.16 L1213.62,141.89 L1214.07,145.63 L1214.52,149.39 L1214.99,153.17 L1215.46,156.96 L1215.93,160.76 L1216.41,164.58 L1216.90,168.40 L1217.39,172.24 L1217.89,176.08 L1218.39,179.93 L1218.90,183.79 L1219.41,187.66 L1219.93,191.52 L1220.46,195.40 L1220.99,199.27 L1221.52,203.15 L1222.07,207.03 L1222.61,210.91 L1223.16,214.79 L1223.72,218.67 L1224.28,222.55 L1224.85,226.43 L1225.42,230.30 L1226.00,234.18 L1226.58,238.04 L1227.17,241.91 L1227.76,245.76 L1228.36,249.62 L1228.96,253.46 L1229.57,257.30 L1230.18,261.14 L1230.79,264.96 L1231.42,268.78 L1232.04,272.59 L1232.67,276.39 L1233.31,280.18 L1233.95,283.97 L1234.60,287.74 L1235.25,291.50 L1235.90,295.26 L1236.56,299.00 L1237.22,302.73 L1237.89,306.45 L1238.56,310.15 L1239.24,313.85 L1239.92,317.53 L1240.61,321.21 L1241.30,324.86 L1242.00,328.51 L1242.70,332.14 L1243.40,335.76 L1244.11,339.37 L1244.82,342.96 L1245.54,346.54 L1246.26,350.10 L1246.99,353.65 L1247.72,357.19 L1248.46,360.71 L1249.20,364.22 L1249.94,367.71 L1250.69,371.19 L1251.44,374.65 L1252.20,378.10 L1252.96,381.54 L1253.72,384.95 L1254.49,388.36 L1255.26,391.74 L1256.04,395.12 L1256.82,398.47 L1257.61,401.81 L1258.40,405.14 L1259.19,408.45 L1259.99,411.74 L1260.79,415.02 L1261.60,418.28 L1262.41,421.53 L1263.22,424.76 L1264.04,427.98 L1264.86,431.18 L1265.69,434.36 L1266.52,437.53 L1267.35,440.68 L1268.19,443.81 L1269.03,446.93 L1269.87,450.03 L1270.72,453.12 L1271.58,456.19 L1272.44,459.25 L1273.30,462.28 L1274.16,465.31 L1275.03,468.31 L1275.90,471.30 L1276.78,474.28 L1277.66,477.24 L1278.55,480.18 L1279.43,483.10 L1280.33,486.01 L1281.22,488.91 L1282.12,491.79 L1283.02,494.65 L1283.93,497.49 L1284.84,500.32 L1285.76,503.14 L1286.67,505.93 L1287.60,508.72 L1288.52,511.48 L1289.45,514.23 L1290.38,516.97 L1291.32,519.69 L1292.26,522.39 L1293.20,525.07 L1294.15,527.75 L1295.10,530.40 L1296.06,533.04 L1297.02,535.66 L1297.98,538.27 L1298.94,540.87 L1299.91,543.44 L1300.89,546.00 L1301.86,548.55 L1302.84,551.08 L1303.82,553.59 L1304.81,556.09 L1305.80,558.58 L1306.80,561.05 L1307.79,563.50 L1308.79,565.94 L1309.80,568.36 L1310.81,570.77 L1311.82,573.16 L1312.83,575.54 L1313.85,577.90 L1314.87,580.24 L1315.90,582.57 L1316.93,584.89 L1317.96,587.19 L1319.00,589.48 L1320.03,591.75 L1321.08,594.01 L1322.12,596.25 L1323.17,598.47 L1324.22,600.69 L1325.28,602.88 L1326.34,605.07 L1327.40,607.23 L1328.47,609.39 L1329.54,611.52 L1330.61,613.65 L1331.69,615.76 L1332.77,617.85 L1333.85,619.93 L1334.94,622.00 L1336.03,624.05 L1337.12,626.09 L1338.21,628.11 L1339.31,630.12 L1340.42,632.11 L1341.52,634.09 L1342.63,636.06 L1343.74,638.01 L1344.86,639.95 L1345.98,641.87 L1347.10,643.78 L1348.23,645.68 L1349.35,647.56 L1350.49,649.43 L1351.62,651.29 L1352.76,653.13 L1353.90,654.95 L1355.05,656.77 L1356.19,658.57 L1357.35,660.36 L1358.50,662.13 L1359.66,663.89 L1360.82,665.64 L1361.98,667.37 L1363.15,669.09 L1364.32,670.80 L1365.49,672.49 L1366.67,674.17 L1367.85,675.84 L1369.03,677.49 L1370.22,679.13 L1371.41,680.76 L1372.60,682.38 L1373.79,683.98 L1374.99,685.57 L1376.19,687.15 L1377.40,688.71 L1378.61,690.26 L1379.82,691.80 L1381.03,693.33 L1382.25,694.84 L1383.47,696.35 L1384.69,697.84 L1385.92,699.31 L1387.15,700.78 L1388.38,702.23 L1389.61,703.67 L1390.85,705.10 L1392.09,706.52 L1393.34,707.92 L1394.59,709.32 L1395.84,710.70 L1397.09,712.07 L1398.35,713.43 L1399.61,714.77 L1400.87,716.11 L1402.13,717.43 L1403.40,718.74 L1404.67,720.04 L1405.95,721.33 L1407.23,722.61 L1408.51,723.87 L1409.79,725.13 L1411.08,726.37 L1412.37,727.61 L1413.66,728.83 L1414.95,730.04 L1416.25,731.24 L1417.55,732.43 L1418.86,733.61 L1420.16,734.78 L1421.47,735.93 L1422.79,737.08 L1424.10,738.22 L1425.42,739.34 L1426.74,740.46 L1428.07,741.56 L1429.39,742.66 L1430.72,743.74 L1432.06,744.82 L1433.39,745.88 L1434.73,746.94 L1436.07,747.98 L1437.42,749.01 L1438.77,750.04 L1440.12,751.05 L1441.47,752.06 L1442.83,753.05 L1444.18,754.04 L1445.55,755.02 L1446.91,755.98 L1448.28,756.94 L1449.65,757.89 L1451.02,758.83 L1452.40,759.76 L1453.78,760.68 L1455.16,761.59 L1456.54,762.49 L1457.93,763.39 L1459.32,764.27 L1460.72,765.15 L1462.11,766.02 L1463.51,766.87 L1464.91,767.72 L1466.32,768.57 L1467.72,769.40 L1469.13,770.22 L1470.54,771.04 L1471.96,771.85 L1473.38,772.65 L1474.80,773.44 L1476.22,774.22 L1477.65,774.99 L1479.08,775.76 L1480.51,776.52 L1481.95,777.27 L1483.38,778.01 L1484.82,778.75 L1486.27,779.48 L1487.71,780.20 L1489.16,780.91 L1490.61,781.61 L1492.07,782.31 L1493.52,783.00 L1494.98,783.68 L1496.44,784.36 L1497.91,785.03 L1499.38,785.69 L1500.85,786.34 L1502.32,786.99 L1503.80,787.63 L1505.27,788.26 L1506.75,788.89 L1508.24,789.50 L1509.73,790.12 L1511.21,790.72 L1512.71,791.32 L1514.20,791.91 L1515.70,792.50 L1517.20,793.08 L1518.70,793.65 L1520.21,794.22 L1521.71,794.78 L1523.22,795.33 L1524.74,795.88 L1526.25,796.42 L1527.77,796.95 L1529.29,797.48 L1530.82,798.01 L1532.34,798.52 L1533.87,799.03 L1535.40,799.54 L1536.94,800.04 L1538.48,800.53 L1540.02,801.02 L1541.56,801.50 L1543.10,801.98 L1544.65,802.45 L1546.20,802.92 L1547.75,803.38 L1549.31,803.83 L1550.87,804.28 L1552.43,804.73 L1553.99,805.17 L1555.56,805.60 L1557.12,806.03 L1558.70,806.45 L1560.27,806.87 L1561.85,807.29 L1563.42,807.70 L1565.01,808.10 L1566.59,808.50 L1568.18,808.89 L1569.76,809.28 L1571.36,809.67 L1572.95,810.05 L1574.55,810.43 L1576.15,810.80 L1577.75,811.16 L1579.35,811.53 L1580.96,811.88 L1582.57,812.24 L1584.18,812.59 L1585.80,812.93 L1587.41,813.27 L1589.03,813.61 L1590.66,813.94 L1592.28,814.27 L1593.91,814.59 L1595.54,814.91 L1597.17,815.23 L1598.81,815.54 L1600.44,815.85 L1602.08,816.15 L1603.73,816.45 L1605.37,816.75 L1607.02,817.04 L1608.67,817.33 L1610.32,817.62 L1611.98,817.90 L1613.63,818.18 L1615.29,818.45 L1616.96,818.73 L1618.62,818.99 L1620.29,819.26 L1621.96,819.52 L1623.63,819.78 L1625.31,820.03 L1626.98,820.28 L1628.66,820.53 L1630.35,820.78 L1632.03,821.02 L1633.72,821.26 L1635.41,821.49 L1637.10,821.72 L1638.80,821.95 L1640.49,822.18 L1642.19,822.40 L1643.89,822.62 L1645.60,822.84 L1647.31,823.05 L1649.02,823.27 L1650.73,823.47 L1652.44,823.68 L1654.16,823.88 L1655.88,824.08 L1657.60,824.28 L1659.32,824.48 L1661.05,824.67 L1662.78,824.86 L1664.51,825.05 L1666.25,825.23 L1667.98,825.42 L1669.72,825.60 L1671.46,825.77 L1673.21,825.95 L1674.95,826.12 L1676.70,826.29 L1678.45,826.46 L1680.20,826.63 L1681.96,826.79 L1683.72,826.95 L1685.48,827.11 L1687.24,827.27 L1689.01,827.42 L1690.78,827.57 L1692.55,827.72 L1694.32,827.87 L1696.09,828.02 L1697.87,828.16 L1699.65,828.31 L1701.43,828.45 L1703.22,828.58 L1705.00,828.72 L1706.79,828.86 L1708.58,828.99 L1710.38,829.12 L1712.17,829.25 L1713.97,829.38 L1715.77,829.50 L1717.58,829.62 L1719.38,829.75 L1721.19,829.87 L1723.00,829.98 L1724.82,830.10 L1726.63,830.22 L1728.45,830.33 L1730.27,830.44 L1732.09,830.55 L1733.92,830.66 L1735.74,830.77 L1737.57,830.87 L1739.40,830.98 L1741.24,831.08 L1743.07,831.18 L1744.91,831.28 L1746.75,831.38 L1748.60,831.47 L1750.44,831.57 L1752.29,831.66 L1754.14,831.76 L1755.99,831.85 L1757.85,831.94 L1759.71,832.03 L1761.57,832.11 L1763.43,832.20 L1765.29,832.28 L1767.16,832.37 L1769.03,832.45 L1770.90,832.53 L1772.77,832.61 L1774.65,832.69 L1776.53,832.77 L1778.41,832.84 L1780.29,832.92 L1782.17,832.99 L1784.06,833.06 L1785.95,833.14 L1787.84,833.21 L1789.74,833.28 L1791.63,833.34 L1793.53,833.41 L1795.43,833.48 L1797.34,833.54 L1799.24,833.61 L1801.15,833.67 L1803.06,833.73 L1804.97,833.80 L1806.89,833.86 L1808.80,833.92 L1810.72,833.98 L1812.65,834.03 L1814.57,834.09 L1816.49,834.15 L1818.42,834.20 L1820.35,834.26 L1822.29,834.31 L1824.22,834.36 L1826.16,834.42 L1828.10,834.47 L1830.04,834.52 L1831.98,834.57 L1833.93,834.62 L1835.88,834.66 L1837.83,834.71 L1839.78,834.76 L1841.74,834.80 L1843.70,834.85 L1845.66,834.89 L1847.62,834.94 L1849.58,834.98 L1851.55,835.02 L1853.52,835.06 L1855.49,835.11 L1857.46,835.15 L1859.44,835.19 L1861.42,835.22 L1863.40,835.26 L1865.38,835.30 L1867.36,835.34 L1869.35,835.38 L1871.34,835.41 L1873.33,835.45 L1875.32,835.48 L1877.32,835.52 L1879.31,835.55 L1881.31,835.58 L1883.32,835.62 L1885.32,835.65 L1887.33,835.68 L1889.34,835.71 L1891.35,835.74 L1893.36,835.77 L1895.37,835.80 L1897.39,835.83 L1899.41,835.86 L1901.43,835.89 L1903.46,835.92 L1905.48,835.94 L1907.51,835.97 L1909.54,836.00 L1911.57,836.02 L1913.61,836.05 L1915.65,836.08 L1917.69,836.10 L1919.73,836.12 L1921.77,836.15 L1923.82,836.17 L1925.87,836.20 L1927.92,836.22 L1929.97,836.24 L1932.02,836.26 L1934.08,836.29 L1936.14,836.31 L1938.20,836.33 L1940.26,836.35 L1942.33,836.37 L1944.39,836.39 L1946.46,836.41 L1948.54,836.43 L1950.61,836.45 L1952.69,836.47 L1954.76,836.48 L1956.85,836.50 L1958.93,836.52 L1961.01,836.54 L1963.10,836.55 L1965.19,836.57 L1967.28,836.59 L1969.37,836.60 L1971.47,836.62 L1973.57,836.64 L1975.67,836.65 L1977.77,836.67 L1979.87,836.68 L1981.98,836.70 L1984.09,836.71 L1986.20,836.73 L1988.31,836.74 L1990.42,836.75 L1992.54,836.77 L1994.66,836.78 L1996.78,836.79" fill="none" stroke="#3030ff" stroke-width="9" stroke-linecap="round" stroke-linejoin="round"/>
<path d="M1201.00,22.30 L1201.03,22.62 L1201.09,23.27 L1201.17,24.15 L1201.26,25.22 L1201.38,26.47 L1201.50,27.88 L1201.64,29.43 L1201.80,31.12 L1201.96,32.93 L1202.14,34.86 L1202.32,36.90 L1202.52,39.04 L1202.73,41.29 L1202.95,43.64 L1203.18,46.07 L1203.41,48.60 L1203.66,51.21 L1203.91,53.89 L1204.18,56.66 L1204.45,59.50 L1204.73,62.41 L1205.01,65.39 L1205.31,68.43 L1205.61,71.53 L1205.93,74.70 L1206.24,77.92 L1206.57,81.19 L1206.90,84.52 L1207.25,87.90 L1207.59,91.32 L1207.95,94.79 L1208.31,98.31 L1208.68,101.86 L1209.06,105.46 L1209.44,109.09 L1209.83,112.76 L1210.22,116.47 L1210.63,120.20 L1211.03,123.97 L1211.45,127.77 L1211.87,131.59 L1212.30,135.44 L1212.73,139.31 L1213.17,143.21 L1213.62,147.13 L1214.07,151.07 L1214.52,155.02 L1214.99,159.00 L1215.46,162.99 L1215.93,166.99 L1216.41,171.01 L1216.90,175.04 L1217.39,179.09 L1217.89,183.14 L1218.39,187.20 L1218.90,191.27 L1219.41,195.35 L1219.93,199.43 L1220.46,203.52 L1220.99,207.61 L1221.52,211.71 L1222.07,215.81 L1222.61,219.91 L1223.16,224.01 L1223.72,228.11 L1224.28,232.21 L1224.85,236.30 L1225.42,240.40 L1226.00,244.49 L1226.58,248.58 L1227.17,252.66 L1227.76,256.74 L1228.36,260.81 L1228.96,264.88 L1229.57,268.94 L1230.18,272.99 L1230.79,277.03 L1231.42,281.06 L1232.04,285.09 L1232.67,289.10 L1233.31,293.11 L1233.95,297.10 L1234.60,301.08 L1235.25,305.05 L1235.90,309.01 L1236.56,312.96 L1237.22,316.90 L1237.89,320.82 L1238.56,324.72 L1239.24,328.62 L1239.92,332.50 L1240.61,336.36 L1241.30,340.21 L1242.00,344.05 L1242.70,347.87 L1243.40,351.67 L1244.11,355.46 L1244.82,359.23 L1245.54,362.99 L1246.26,366.73 L1246.99,370.45 L1247.72,374.16 L1248.46,377.85 L1249.20,381.52 L1249.94,385.18 L1250.69,388.81 L1251.44,392.43 L1252.20,396.03 L1252.96,399.62 L1253.72,403.18 L1254.49,406.73 L1255.26,410.26 L1256.04,413.77 L1256.82,417.26 L1257.61,420.73 L1258.40,424.18 L1259.19,427.62 L1259.99,431.03 L1260.79,434.43 L1261.60,437.81 L1262.41,441.17 L1263.22,444.51 L1264.04,447.83 L1264.86,451.13 L1265.69,454.41 L1266.52,457.67 L1267.35,460.92 L1268.19,464.14 L1269.03,467.35 L1269.87,470.53 L1270.72,473.70 L1271.58,476.84 L1272.44,479.97 L1273.30,483.08 L1274.16,486.17 L1275.03,489.24 L1275.90,492.29 L1276.78,495.32 L1277.66,498.33 L1278.55,501.32 L1279.43,504.30 L1280.33,507.25 L1281.22,510.18 L1282.12,513.10 L1283.02,516.00 L1283.93,518.87 L1284.84,521.73 L1285.76,524.57 L1286.67,527.39 L1287.60,530.19 L1288.52,532.98 L1289.45,535.74 L1290.38,538.49 L1291.32,541.21 L1292.26,543.92 L1293.20,546.61 L1294.15,549.28 L1295.10,551.93 L1296.06,554.57 L1297.02,557.18 L1297.98,559.78 L1298.94,562.36 L1299.91,564.92 L1300.89,567.46 L1301.86,569.99 L1302.84,572.49 L1303.82,574.98 L1304.81,577.45 L1305.80,579.91 L1306.80,582.34 L1307.79,584.76 L1308.79,587.16 L1309.80,589.54 L1310.81,591.91 L1311.82,594.26 L1312.83,596.59 L1313.85,598.90 L1314.87,601.20 L1315.90,603.48 L1316.93,605.74 L1317.96,607.98 L1319.00,610.21 L1320.03,612.42 L1321.08,614.62 L1322.12,616.80 L1323.17,618.96 L1324.22,621.11 L1325.28,623.23 L1326.34,625.35 L1327.40,627.44 L1328.47,629.52 L1329.54,631.59 L1330.61,633.64 L1331.69,635.67 L1332.77,637.69 L1333.85,639.69 L1334.94,641.67 L1336.03,643.64 L1337.12,645.60 L1338.21,647.53 L1339.31,649.46 L1340.42,651.36 L1341.52,653.26 L1342.63,655.13 L1343.74,657.00 L1344.86,658.84 L1345.98,660.68 L1347.10,662.49 L1348.23,664.30 L1349.35,666.08 L1350.49,667.86 L1351.62,669.62 L1352.76,671.36 L1353.90,673.09 L1355.05,674.81 L1356.19,676.51 L1357.35,678.19 L1358.50,679.87 L1359.66,681.53 L1360.82,683.17 L1361.98,684.80 L1363.15,686.42 L1364.32,688.03 L1365.49,689.62 L1366.67,691.19 L1367.85,692.76 L1369.03,694.31 L1370.22,695.84 L1371.41,697.37 L1372.60,698.88 L1373.79,700.37 L1374.99,701.86 L1376.19,703.33 L1377.40,704.79 L1378.61,706.23 L1379.82,707.66 L1381.03,709.08 L1382.25,710.49 L1383.47,711.89 L1384.69,713.27 L1385.92,714.64 L1387.15,716.00 L1388.38,717.34 L1389.61,718.68 L1390.85,720.00 L1392.09,721.31 L1393.34,722.61 L1394.59,723.89 L1395.84,725.17 L1397.09,726.43 L1398.35,727.68 L1399.61,728.92 L1400.87,730.15 L1402.13,731.36 L1403.40,732.57 L1404.67,733.76 L1405.95,734.95 L1407.23,736.12 L1408.51,737.28 L1409.79,738.43 L1411.08,739.57 L1412.37,740.70 L1413.66,741.81 L1414.95,742.92 L1416.25,744.02 L1417.55,745.10 L1418.86,746.18 L1420.16,747.24 L1421.47,748.30 L1422.79,749.34 L1424.10,750.38 L1425.42,751.40 L1426.74,752.42 L1428.07,753.42 L1429.39,754.41 L1430.72,755.40 L1432.06,756.37 L1433.39,757.34 L1434.73,758.29 L1436.07,759.24 L1437.42,760.18 L1438.77,761.10 L1440.12,762.02 L1441.47,762.93 L1442.83,763.83 L1444.18,764.72 L1445.55,765.60 L1446.91,766.47 L1448.28,767.34 L1449.65,768.19 L1451.02,769.04 L1452.40,769.87 L1453.78,770.70 L1455.16,771.52 L1456.54,772.33 L1457.93,773.14 L1459.32,773.93 L1460.72,774.72 L1462.11,775.50 L1463.51,776.27 L1464.91,777.03 L1466.32,777.78 L1467.72,778.53 L1469.13,779.26 L1470.54,779.99 L1471.96,780.72 L1473.38,781.43 L1474.80,782.14 L1476.22,782.84 L1477.65,783.53 L1479.08,784.21 L1480.51,784.89 L1481.95,785.56 L1483.38,786.22 L1484.82,786.87 L1486.27,787.52 L1487.71,788.16 L1489.16,788.79 L1490.61,789.42 L1492.07,790.04 L1493.52,790.65 L1494.98,791.26 L1496.44,791.86 L1497.91,792.45 L1499.38,793.03 L1500.85,793.61 L1502.32,794.19 L1503.80,794.75 L1505.27,795.31 L1506.75,795.86 L1508.24,796.41 L1509.73,796.95 L1511.21,797.49 L1512.71,798.01 L1514.20,798.54 L1515.70,799.05 L1517.20,799.56 L1518.70,800.07 L1520.21,800.57 L1521.71,801.06 L1523.22,801.55 L1524.74,802.03 L1526.25,802.50 L1527.77,802.97 L1529.29,803.44 L1530.82,803.90 L1532.34,804.35 L1533.87,804.80 L1535.40,805.24 L1536.94,805.68 L1538.48,806.11 L1540.02,806.54 L1541.56,806.96 L1543.10,807.38 L1544.65,807.79 L1546.20,808.20 L1547.75,808.60 L1549.31,809.00 L1550.87,809.39 L1552.43,809.78 L1553.99,810.16 L1555.56,810.54 L1557.12,810.92 L1558.70,811.28 L1560.27,811.65 L1561.85,812.01 L1563.42,812.37 L1565.01,812.72 L1566.59,813.06 L1568.18,813.41 L1569.76,813.74 L1571.36,814.08 L1572.95,814.41 L1574.55,814.73 L1576.15,815.06 L1577.75,815.37 L1579.35,815.69 L1580.96,816.00 L1582.57,816.30 L1584.18,816.61 L1585.80,816.90 L1587.41,817.20 L1589.03,817.49 L1590.66,817.78 L1592.28,818.06 L1593.91,818.34 L1595.54,818.61 L1597.17,818.89 L1598.81,819.16 L1600.44,819.42 L1602.08,819.68 L1603.73,819.94 L1605.37,820.20 L1607.02,820.45 L1608.67,820.70 L1610.32,820.94 L1611.98,821.18 L1613.63,821.42 L1615.29,821.66 L1616.96,821.89 L1618.62,822.12 L1620.29,822.35 L1621.96,822.57 L1623.63,822.79 L1625.31,823.01 L1626.98,823.22 L1628.66,823.44 L1630.35,823.64 L1632.03,823.85 L1633.72,824.05 L1635.41,824.26 L1637.10,824.45 L1638.80,824.65 L1640.49,824.84 L1642.19,825.03 L1643.89,825.22 L1645.60,825.40 L1647.31,825.59 L1649.02,825.77 L1650.73,825.94 L1652.44,826.12 L1654.16,826.29 L1655.88,826.46 L1657.60,826.63 L1659.32,826.79 L1661.05,826.96 L1662.78,827.12 L1664.51,827.28 L1666.25,827.43 L1667.98,827.59 L1669.72,827.74 L1671.46,827.89 L1673.21,828.04 L1674.95,828.18 L1676.70,828.33 L1678.45,828.47 L1680.20,828.61 L1681.96,828.75 L1683.72,828.88 L1685.48,829.02 L1687.24,829.15 L1689.01,829.28 L1690.78,829.41 L1692.55,829.53 L1694.32,829.66 L1696.09,829.78 L1697.87,829.90 L1699.65,830.02 L1701.43,830.14 L1703.22,830.26 L1705.00,830.37 L1706.79,830.48 L1708.58,830.59 L1710.38,830.70 L1712.17,830.81 L1713.97,830.92 L1715.77,831.02 L1717.58,831.12 L1719.38,831.23 L1721.19,831.33 L1723.00,831.42 L1724.82,831.52 L1726.63,831.62 L1728.45,831.71 L1730.27,831.81 L1732.09,831.90 L1733.92,831.99 L1735.74,832.08 L1737.57,832.16 L1739.40,832.25 L1741.24,832.33 L1743.07,832.42 L1744.91,832.50 L1746.75,832.58 L1748.60,832.66 L1750.44,832.74 L1752.29,832.82 L1754.14,832.89 L1755.99,832.97 L1757.85,833.04 L1759.71,833.12 L1761.57,833.19 L1763.43,833.26 L1765.29,833.33 L1767.16,833.40 L1769.03,833.47 L1770.90,833.53 L1772.77,833.60 L1774.65,833.66 L1776.53,833.73 L1778.41,833.79 L1780.29,833.85 L1782.17,833.91 L1784.06,833.97 L1785.95,834.03 L1787.84,834.09 L1789.74,834.14 L1791.63,834.20 L1793.53,834.26 L1795.43,834.31 L1797.34,834.36 L1799.24,834.42 L1801.15,834.47 L1803.06,834.52 L1804.97,834.57 L1806.89,834.62 L1808.80,834.67 L1810.72,834.72 L1812.65,834.76 L1814.57,834.81 L1816.49,834.86 L1818.42,834.90 L1820.35,834.94 L1822.29,834.99 L1824.22,835.03 L1826.16,835.07 L1828.10,835.12 L1830.04,835.16 L1831.98,835.20 L1833.93,835.24 L1835.88,835.27 L1837.83,835.31 L1839.78,835.35 L1841.74,835.39 L1843.70,835.42 L1845.66,835.46 L1847.62,835.50 L1849.58,835.53 L1851.55,835.56 L1853.52,835.60 L1855.49,835.63 L1857.46,835.66 L1859.44,835.70 L1861.42,835.73 L1863.40,835.76 L1865.38,835.79 L1867.36,835.82 L1869.35,835.85 L1871.34,835.88 L1873.33,835.91 L1875.32,835.93 L1877.32,835.96 L1879.31,835.99 L1881.31,836.01 L1883.32,836.04 L1885.32,836.07 L1887.33,836.09 L1889.34,836.12 L1891.35,836.14 L1893.36,836.17 L1895.37,836.19 L1897.39,836.21 L1899.41,836.24 L1901.43,836.26 L1903.46,836.28 L1905.48,836.30 L1907.51,836.32 L1909.54,836.34 L1911.57,836.37 L1913.61,836.39 L1915.65,836.41 L1917.69,836.43 L1919.73,836.44 L1921.77,836.46 L1923.82,836.48 L1925.87,836.50 L1927.92,836.52 L1929.97,836.54 L1932.02,836.55 L1934.08,836.57 L1936.14,836.59 L1938.20,836.60 L1940.26,836.62 L1942.33,836.64 L1944.39,836.65 L1946.46,836.67 L1948.54,836.68 L1950.61,836.70 L1952.69,836.71 L1954.76,836.73 L1956.85,836.74 L1958.93,836.76 L1961.01,836.77 L1963.10,836.78 L1965.19,836.80 L1967.28,836.81 L1969.37,836.82 L1971.47,836.83 L1973.57,836.85 L1975.67,836.86 L1977.77,836.87 L1979.87,836.88 L1981.98,836.89 L1984.09,836.90 L1986.20,836.92 L1988.31,836.93 L1990.42,836.94 L1992.54,836.95 L1994.66,836.96 L1996.78,836.97" fill="none" stroke="#00cc00" stroke-width="9" stroke-linecap="round" stroke-linejoin="round"/>
<path d="M1201.00,22.30 L1201.03,22.65 L1201.09,23.35 L1201.17,24.31 L1201.26,25.48 L1201.38,26.84 L1201.50,28.38 L1201.64,30.06 L1201.80,31.90 L1201.96,33.87 L1202.14,35.97 L1202.32,38.20 L1202.52,40.53 L1202.73,42.98 L1202.95,45.54 L1203.18,48.19 L1203.41,50.94 L1203.66,53.78 L1203.91,56.71 L1204.18,59.72 L1204.45,62.82 L1204.73,65.99 L1205.01,69.23 L1205.31,72.55 L1205.61,75.93 L1205.93,79.38 L1206.24,82.89 L1206.57,86.46 L1206.90,90.09 L1207.25,93.77 L1207.59,97.50 L1207.95,101.29 L1208.31,105.12 L1208.68,109.00 L1209.06,112.92 L1209.44,116.88 L1209.83,120.88 L1210.22,124.92 L1210.63,128.99 L1211.03,133.09 L1211.45,137.23 L1211.87,141.40 L1212.30,145.60 L1212.73,149.82 L1213.17,154.07 L1213.62,158.34 L1214.07,162.63 L1214.52,166.94 L1214.99,171.27 L1215.46,175.62 L1215.93,179.98 L1216.41,184.36 L1216.90,188.75 L1217.39,193.15 L1217.89,197.57 L1218.39,201.99 L1218.90,206.42 L1219.41,210.86 L1219.93,215.30 L1220.46,219.75 L1220.99,224.20 L1221.52,228.66 L1222.07,233.11 L1222.61,237.57 L1223.16,242.03 L1223.72,246.48 L1224.28,250.93 L1224.85,255.38 L1225.42,259.83 L1226.00,264.27 L1226.58,268.70 L1227.17,273.13 L1227.76,277.55 L1228.36,281.97 L1228.96,286.37 L1229.57,290.77 L1230.18,295.15 L1230.79,299.53 L1231.42,303.89 L1232.04,308.25 L1232.67,312.59 L1233.31,316.91 L1233.95,321.23 L1234.60,325.52 L1235.25,329.81 L1235.90,334.08 L1236.56,338.33 L1237.22,342.57 L1237.89,346.79 L1238.56,351.00 L1239.24,355.18 L1239.92,359.36 L1240.61,363.51 L1241.30,367.64 L1242.00,371.76 L1242.70,375.85 L1243.40,379.93 L1244.11,383.99 L1244.82,388.02 L1245.54,392.04 L1246.26,396.04 L1246.99,400.01 L1247.72,403.97 L1248.46,407.90 L1249.20,411.81 L1249.94,415.70 L1250.69,419.57 L1251.44,423.42 L1252.20,427.24 L1252.96,431.05 L1253.72,434.83 L1254.49,438.58 L1255.26,442.32 L1256.04,446.03 L1256.82,449.72 L1257.61,453.39 L1258.40,457.03 L1259.19,460.65 L1259.99,464.25 L1260.79,467.82 L1261.60,471.37 L1262.41,474.90 L1263.22,478.40 L1264.04,481.88 L1264.86,485.33 L1265.69,488.76 L1266.52,492.17 L1267.35,495.56 L1268.19,498.92 L1269.03,502.25 L1269.87,505.57 L1270.72,508.86 L1271.58,512.12 L1272.44,515.36 L1273.30,518.58 L1274.16,521.78 L1275.03,524.95 L1275.90,528.09 L1276.78,531.22 L1277.66,534.32 L1278.55,537.39 L1279.43,540.45 L1280.33,543.48 L1281.22,546.48 L1282.12,549.46 L1283.02,552.42 L1283.93,555.36 L1284.84,558.27 L1285.76,561.16 L1286.67,564.03 L1287.60,566.88 L1288.52,569.70 L1289.45,572.50 L1290.38,575.27 L1291.32,578.03 L1292.26,580.76 L1293.20,583.47 L1294.15,586.15 L1295.10,588.82 L1296.06,591.46 L1297.02,594.08 L1297.98,596.68 L1298.94,599.25 L1299.91,601.81 L1300.89,604.34 L1301.86,606.85 L1302.84,609.34 L1303.82,611.81 L1304.81,614.25 L1305.80,616.68 L1306.80,619.08 L1307.79,621.47 L1308.79,623.83 L1309.80,626.17 L1310.81,628.49 L1311.82,630.80 L1312.83,633.08 L1313.85,635.34 L1314.87,637.58 L1315.90,639.80 L1316.93,642.00 L1317.96,644.18 L1319.00,646.34 L1320.03,648.48 L1321.08,650.60 L1322.12,652.70 L1323.17,654.79 L1324.22,656.85 L1325.28,658.90 L1326.34,660.92 L1327.40,662.93 L1328.47,664.92 L1329.54,666.89 L1330.61,668.84 L1331.69,670.78 L1332.77,672.69 L1333.85,674.59 L1334.94,676.47 L1336.03,678.33 L1337.12,680.17 L1338.21,682.00 L1339.31,683.81 L1340.42,685.60 L1341.52,687.38 L1342.63,689.13 L1343.74,690.87 L1344.86,692.60 L1345.98,694.30 L1347.10,695.99 L1348.23,697.67 L1349.35,699.33 L1350.49,700.97 L1351.62,702.59 L1352.76,704.20 L1353.90,705.79 L1355.05,707.37 L1356.19,708.93 L1357.35,710.48 L1358.50,712.01 L1359.66,713.52 L1360.82,715.02 L1361.98,716.50 L1363.15,717.97 L1364.32,719.43 L1365.49,720.87 L1366.67,722.29 L1367.85,723.70 L1369.03,725.10 L1370.22,726.48 L1371.41,727.85 L1372.60,729.20 L1373.79,730.54 L1374.99,731.87 L1376.19,733.18 L1377.40,734.48 L1378.61,735.76 L1379.82,737.03 L1381.03,738.29 L1382.25,739.53 L1383.47,740.76 L1384.69,741.98 L1385.92,743.19 L1387.15,744.38 L1388.38,745.56 L1389.61,746.72 L1390.85,747.88 L1392.09,749.02 L1393.34,750.15 L1394.59,751.27 L1395.84,752.37 L1397.09,753.46 L1398.35,754.55 L1399.61,755.61 L1400.87,756.67 L1402.13,757.72 L1403.40,758.75 L1404.67,759.78 L1405.95,760.79 L1407.23,761.79 L1408.51,762.78 L1409.79,763.76 L1411.08,764.72 L1412.37,765.68 L1413.66,766.62 L1414.95,767.56 L1416.25,768.48 L1417.55,769.40 L1418.86,770.30 L1420.16,771.20 L1421.47,772.08 L1422.79,772.95 L1424.10,773.81 L1425.42,774.67 L1426.74,775.51 L1428.07,776.34 L1429.39,777.17 L1430.72,777.98 L1432.06,778.79 L1433.39,779.58 L1434.73,780.37 L1436.07,781.15 L1437.42,781.91 L1438.77,782.67 L1440.12,783.42 L1441.47,784.16 L1442.83,784.90 L1444.18,785.62 L1445.55,786.33 L1446.91,787.04 L1448.28,787.74 L1449.65,788.43 L1451.02,789.11 L1452.40,789.78 L1453.78,790.45 L1455.16,791.10 L1456.54,791.75 L1457.93,792.39 L1459.32,793.03 L1460.72,793.65 L1462.11,794.27 L1463.51,794.88 L1464.91,795.48 L1466.32,796.08 L1467.72,796.67 L1469.13,797.25 L1470.54,797.82 L1471.96,798.39 L1473.38,798.94 L1474.80,799.50 L1476.22,800.04 L1477.65,800.58 L1479.08,801.11 L1480.51,801.64 L1481.95,802.15 L1483.38,802.67 L1484.82,803.17 L1486.27,803.67 L1487.71,804.16 L1489.16,804.65 L1490.61,805.13 L1492.07,805.60 L1493.52,806.07 L1494.98,806.53 L1496.44,806.98 L1497.91,807.43 L1499.38,807.88 L1500.85,808.32 L1502.32,808.75 L1503.80,809.17 L1505.27,809.59 L1506.75,810.01 L1508.24,810.42 L1509.73,810.82 L1511.21,811.22 L1512.71,811.62 L1514.20,812.00 L1515.70,812.39 L1517.20,812.77 L1518.70,813.14 L1520.21,813.51 L1521.71,813.87 L1523.22,814.23 L1524.74,814.58 L1526.25,814.93 L1527.77,815.27 L1529.29,815.61 L1530.82,815.95 L1532.34,816.28 L1533.87,816.60 L1535.40,816.92 L1536.94,817.24 L1538.48,817.55 L1540.02,817.86 L1541.56,818.17 L1543.10,818.46 L1544.65,818.76 L1546.20,819.05 L1547.75,819.34 L1549.31,819.62 L1550.87,819.90 L1552.43,820.18 L1553.99,820.45 L1555.56,820.71 L1557.12,820.98 L1558.70,821.24 L1560.27,821.50 L1561.85,821.75 L1563.42,822.00 L1565.01,822.24 L1566.59,822.48 L1568.18,822.72 L1569.76,822.96 L1571.36,823.19 L1572.95,823.42 L1574.55,823.64 L1576.15,823.87 L1577.75,824.08 L1579.35,824.30 L1580.96,824.51 L1582.57,824.72 L1584.18,824.93 L1585.80,825.13 L1587.41,825.33 L1589.03,825.53 L1590.66,825.72 L1592.28,825.91 L1593.91,826.10 L1595.54,826.29 L1597.17,826.47 L1598.81,826.65 L1600.44,826.83 L1602.08,827.01 L1603.73,827.18 L1605.37,827.35 L1607.02,827.52 L1608.67,827.68 L1610.32,827.84 L1611.98,828.00 L1613.63,828.16 L1615.29,828.32 L1616.96,828.47 L1618.62,828.62 L1620.29,828.77 L1621.96,828.91 L1623.63,829.06 L1625.31,829.20 L1626.98,829.34 L1628.66,829.47 L1630.35,829.61 L1632.03,829.74 L1633.72,829.87 L1635.41,830.00 L1637.10,830.13 L1638.80,830.25 L1640.49,830.38 L1642.19,830.50 L1643.89,830.62 L1645.60,830.73 L1647.31,830.85 L1649.02,830.96 L1650.73,831.08 L1652.44,831.19 L1654.16,831.29 L1655.88,831.40 L1657.60,831.51 L1659.32,831.61 L1661.05,831.71 L1662.78,831.81 L1664.51,831.91 L1666.25,832.01 L1667.98,832.10 L1669.72,832.20 L1671.46,832.29 L1673.21,832.38 L1674.95,832.47 L1676.70,832.56 L1678.45,832.64 L1680.20,832.73 L1681.96,832.81 L1683.72,832.89 L1685.48,832.97 L1687.24,833.05 L1689.01,833.13 L1690.78,833.21 L1692.55,833.29 L1694.32,833.36 L1696.09,833.43 L1697.87,833.51 L1699.65,833.58 L1701.43,833.65 L1703.22,833.72 L1705.00,833.78 L1706.79,833.85 L1708.58,833.92 L1710.38,833.98 L1712.17,834.04 L1713.97,834.10 L1715.77,834.17 L1717.58,834.23 L1719.38,834.28 L1721.19,834.34 L1723.00,834.40 L1724.82,834.46 L1726.63,834.51 L1728.45,834.57 L1730.27,834.62 L1732.09,834.67 L1733.92,834.72 L1735.74,834.77 L1737.57,834.82 L1739.40,834.87 L1741.24,834.92 L1743.07,834.97 L1744.91,835.01 L1746.75,835.06 L1748.60,835.11 L1750.44,835.15 L1752.29,835.19 L1754.14,835.24 L1755.99,835.28 L1757.85,835.32 L1759.71,835.36 L1761.57,835.40 L1763.43,835.44 L1765.29,835.48 L1767.16,835.51 L1769.03,835.55 L1770.90,835.59 L1772.77,835.62 L1774.65,835.66 L1776.53,835.69 L1778.41,835.73 L1780.29,835.76 L1782.17,835.79 L1784.06,835.82 L1785.95,835.86 L1787.84,835.89 L1789.74,835.92 L1791.63,835.95 L1793.53,835.98 L1795.43,836.01 L1797.34,836.03 L1799.24,836.06 L1801.15,836.09 L1803.06,836.12 L1804.97,836.14 L1806.89,836.17 L1808.80,836.19 L1810.72,836.22 L1812.65,836.24 L1814.57,836.27 L1816.49,836.29 L1818.42,836.32 L1820.35,836.34 L1822.29,836.36 L1824.22,836.38 L1826.16,836.40 L1828.10,836.43 L1830.04,836.45 L1831.98,836.47 L1833.93,836.49 L1835.88,836.51 L1837.83,836.53 L1839.78,836.54 L1841.74,836.56 L1843.70,836.58 L1845.66,836.60 L1847.62,836.62 L1849.58,836.63 L1851.55,836.65 L1853.52,836.67 L1855.49,836.68 L1857.46,836.70 L1859.44,836.72 L1861.42,836.73 L1863.40,836.75 L1865.38,836.76 L1867.36,836.78 L1869.35,836.79 L1871.34,836.81 L1873.33,836.82 L1875.32,836.83 L1877.32,836.85 L1879.31,836.86 L1881.31,836.87 L1883.32,836.88 L1885.32,836.90 L1887.33,836.91 L1889.34,836.92 L1891.35,836.93 L1893.36,836.94 L1895.37,836.95 L1897.39,836.97 L1899.41,836.98 L1901.43,836.99 L1903.46,837.00 L1905.48,837.01 L1907.51,837.02 L1909.54,837.03 L1911.57,837.04 L1913.61,837.05 L1915.65,837.06 L1917.69,837.06 L1919.73,837.07 L1921.77,837.08 L1923.82,837.09 L1925.87,837.10 L1927.92,837.11 L1929.97,837.12 L1932.02,837.12 L1934.08,837.13 L1936.14,837.14 L1938.20,837.15 L1940.26,837.15 L1942.33,837.16 L1944.39,837.17 L1946.46,837.17 L1948.54,837.18 L1950.61,837.19 L1952.69,837.19 L1954.76,837.20 L1956.85,837.21 L1958.93,837.21 L1961.01,837.22 L1963.10,837.22 L1965.19,837.23 L1967.28,837.24 L1969.37,837.24 L1971.47,837.25 L1973.57,837.25 L1975.67,837.26 L1977.77,837.26 L1979.87,837.27 L1981.98,837.27 L1984.09,837.28 L1986.20,837.28 L1988.31,837.29 L1990.42,837.29 L1992.54,837.30 L1994.66,837.30 L1996.78,837.30" fill="none" stroke="#cc0000" stroke-width="9" stroke-linecap="round" stroke-linejoin="round" stroke-dasharray="38.6 21.07 2 21.07 2 21.07" stroke-dashoffset="-2"/>
<path d="M1201.00,22.30 L1201.03,22.67 L1201.09,23.42 L1201.17,24.45 L1201.26,25.70 L1201.38,27.15 L1201.50,28.78 L1201.64,30.58 L1201.80,32.54 L1201.96,34.64 L1202.14,36.88 L1202.32,39.25 L1202.52,41.74 L1202.73,44.35 L1202.95,47.07 L1203.18,49.90 L1203.41,52.82 L1203.66,55.85 L1203.91,58.96 L1204.18,62.16 L1204.45,65.45 L1204.73,68.82 L1205.01,72.27 L1205.31,75.79 L1205.61,79.38 L1205.93,83.04 L1206.24,86.76 L1206.57,90.55 L1206.90,94.39 L1207.25,98.29 L1207.59,102.24 L1207.95,106.25 L1208.31,110.30 L1208.68,114.40 L1209.06,118.54 L1209.44,122.73 L1209.83,126.96 L1210.22,131.22 L1210.63,135.51 L1211.03,139.85 L1211.45,144.21 L1211.87,148.60 L1212.30,153.02 L1212.73,157.46 L1213.17,161.93 L1213.62,166.42 L1214.07,170.93 L1214.52,175.46 L1214.99,180.01 L1215.46,184.57 L1215.93,189.15 L1216.41,193.74 L1216.90,198.34 L1217.39,202.95 L1217.89,207.57 L1218.39,212.20 L1218.90,216.83 L1219.41,221.47 L1219.93,226.11 L1220.46,230.75 L1220.99,235.40 L1221.52,240.04 L1222.07,244.68 L1222.61,249.33 L1223.16,253.97 L1223.72,258.60 L1224.28,263.23 L1224.85,267.86 L1225.42,272.47 L1226.00,277.08 L1226.58,281.68 L1227.17,286.28 L1227.76,290.86 L1228.36,295.43 L1228.96,299.99 L1229.57,304.54 L1230.18,309.07 L1230.79,313.60 L1231.42,318.10 L1232.04,322.60 L1232.67,327.07 L1233.31,331.53 L1233.95,335.98 L1234.60,340.41 L1235.25,344.82 L1235.90,349.21 L1236.56,353.58 L1237.22,357.94 L1237.89,362.27 L1238.56,366.59 L1239.24,370.89 L1239.92,375.16 L1240.61,379.41 L1241.30,383.65 L1242.00,387.86 L1242.70,392.05 L1243.40,396.22 L1244.11,400.36 L1244.82,404.48 L1245.54,408.58 L1246.26,412.66 L1246.99,416.71 L1247.72,420.74 L1248.46,424.74 L1249.20,428.72 L1249.94,432.68 L1250.69,436.61 L1251.44,440.52 L1252.20,444.40 L1252.96,448.26 L1253.72,452.09 L1254.49,455.90 L1255.26,459.68 L1256.04,463.44 L1256.82,467.17 L1257.61,470.88 L1258.40,474.56 L1259.19,478.22 L1259.99,481.85 L1260.79,485.45 L1261.60,489.03 L1262.41,492.58 L1263.22,496.11 L1264.04,499.61 L1264.86,503.08 L1265.69,506.53 L1266.52,509.96 L1267.35,513.35 L1268.19,516.73 L1269.03,520.07 L1269.87,523.39 L1270.72,526.69 L1271.58,529.96 L1272.44,533.20 L1273.30,536.42 L1274.16,539.61 L1275.03,542.78 L1275.90,545.92 L1276.78,549.04 L1277.66,552.13 L1278.55,555.19 L1279.43,558.23 L1280.33,561.25 L1281.22,564.24 L1282.12,567.20 L1283.02,570.14 L1283.93,573.06 L1284.84,575.95 L1285.76,578.82 L1286.67,581.66 L1287.60,584.48 L1288.52,587.27 L1289.45,590.04 L1290.38,592.79 L1291.32,595.51 L1292.26,598.20 L1293.20,600.88 L1294.15,603.53 L1295.10,606.15 L1296.06,608.76 L1297.02,611.34 L1297.98,613.89 L1298.94,616.43 L1299.91,618.94 L1300.89,621.43 L1301.86,623.89 L1302.84,626.34 L1303.82,628.76 L1304.81,631.15 L1305.80,633.53 L1306.80,635.88 L1307.79,638.22 L1308.79,640.53 L1309.80,642.82 L1310.81,645.08 L1311.82,647.33 L1312.83,649.55 L1313.85,651.76 L1314.87,653.94 L1315.90,656.10 L1316.93,658.24 L1317.96,660.36 L1319.00,662.46 L1320.03,664.54 L1321.08,666.60 L1322.12,668.64 L1323.17,670.66 L1324.22,672.66 L1325.28,674.64 L1326.34,676.60 L1327.40,678.54 L1328.47,680.46 L1329.54,682.36 L1330.61,684.25 L1331.69,686.11 L1332.77,687.96 L1333.85,689.78 L1334.94,691.59 L1336.03,693.38 L1337.12,695.16 L1338.21,696.91 L1339.31,698.65 L1340.42,700.37 L1341.52,702.07 L1342.63,703.75 L1343.74,705.42 L1344.86,707.07 L1345.98,708.70 L1347.10,710.31 L1348.23,711.91 L1349.35,713.49 L1350.49,715.06 L1351.62,716.60 L1352.76,718.14 L1353.90,719.65 L1355.05,721.15 L1356.19,722.63 L1357.35,724.10 L1358.50,725.55 L1359.66,726.99 L1360.82,728.41 L1361.98,729.82 L1363.15,731.21 L1364.32,732.58 L1365.49,733.94 L1366.67,735.29 L1367.85,736.62 L1369.03,737.93 L1370.22,739.24 L1371.41,740.52 L1372.60,741.80 L1373.79,743.05 L1374.99,744.30 L1376.19,745.53 L1377.40,746.75 L1378.61,747.95 L1379.82,749.14 L1381.03,750.32 L1382.25,751.48 L1383.47,752.63 L1384.69,753.77 L1385.92,754.89 L1387.15,756.00 L1388.38,757.10 L1389.61,758.19 L1390.85,759.26 L1392.09,760.32 L1393.34,761.37 L1394.59,762.41 L1395.84,763.43 L1397.09,764.45 L1398.35,765.45 L1399.61,766.44 L1400.87,767.41 L1402.13,768.38 L1403.40,769.33 L1404.67,770.28 L1405.95,771.21 L1407.23,772.13 L1408.51,773.04 L1409.79,773.94 L1411.08,774.83 L1412.37,775.70 L1413.66,776.57 L1414.95,777.43 L1416.25,778.27 L1417.55,779.11 L1418.86,779.94 L1420.16,780.75 L1421.47,781.56 L1422.79,782.35 L1424.10,783.14 L1425.42,783.92 L1426.74,784.68 L1428.07,785.44 L1429.39,786.19 L1430.72,786.93 L1432.06,787.65 L1433.39,788.37 L1434.73,789.09 L1436.07,789.79 L1437.42,790.48 L1438.77,791.17 L1440.12,791.84 L1441.47,792.51 L1442.83,793.17 L1444.18,793.82 L1445.55,794.46 L1446.91,795.09 L1448.28,795.72 L1449.65,796.34 L1451.02,796.95 L1452.40,797.55 L1453.78,798.14 L1455.16,798.73 L1456.54,799.31 L1457.93,799.88 L1459.32,800.44 L1460.72,801.00 L1462.11,801.55 L1463.51,802.09 L1464.91,802.62 L1466.32,803.15 L1467.72,803.67 L1469.13,804.18 L1470.54,804.69 L1471.96,805.19 L1473.38,805.68 L1474.80,806.17 L1476.22,806.65 L1477.65,807.12 L1479.08,807.59 L1480.51,808.05 L1481.95,808.50 L1483.38,808.95 L1484.82,809.39 L1486.27,809.83 L1487.71,810.26 L1489.16,810.68 L1490.61,811.10 L1492.07,811.51 L1493.52,811.92 L1494.98,812.32 L1496.44,812.71 L1497.91,813.10 L1499.38,813.49 L1500.85,813.87 L1502.32,814.24 L1503.80,814.61 L1505.27,814.97 L1506.75,815.33 L1508.24,815.68 L1509.73,816.03 L1511.21,816.37 L1512.71,816.71 L1514.20,817.04 L1515.70,817.37 L1517.20,817.70 L1518.70,818.02 L1520.21,818.33 L1521.71,818.64 L1523.22,818.95 L1524.74,819.25 L1526.25,819.54 L1527.77,819.83 L1529.29,820.12 L1530.82,820.41 L1532.34,820.69 L1533.87,820.96 L1535.40,821.23 L1536.94,821.50 L1538.48,821.76 L1540.02,822.02 L1541.56,822.28 L1543.10,822.53 L1544.65,822.78 L1546.20,823.02 L1547.75,823.26 L1549.31,823.50 L1550.87,823.73 L1552.43,823.96 L1553.99,824.19 L1555.56,824.41 L1557.12,824.63 L1558.70,824.85 L1560.27,825.06 L1561.85,825.27 L1563.42,825.48 L1565.01,825.68 L1566.59,825.88 L1568.18,826.08 L1569.76,826.28 L1571.36,826.47 L1572.95,826.65 L1574.55,826.84 L1576.15,827.02 L1577.75,827.20 L1579.35,827.38 L1580.96,827.55 L1582.57,827.72 L1584.18,827.89 L1585.80,828.06 L1587.41,828.22 L1589.03,828.38 L1590.66,828.54 L1592.28,828.70 L1593.91,828.85 L1595.54,829.00 L1597.17,829.15 L1598.81,829.29 L1600.44,829.44 L1602.08,829.58 L1603.73,829.72 L1605.37,829.86 L1607.02,829.99 L1608.67,830.12 L1610.32,830.25 L1611.98,830.38 L1613.63,830.51 L1615.29,830.63 L1616.96,830.75 L1618.62,830.87 L1620.29,830.99 L1621.96,831.11 L1623.63,831.22 L1625.31,831.33 L1626.98,831.45 L1628.66,831.55 L1630.35,831.66 L1632.03,831.77 L1633.72,831.87 L1635.41,831.97 L1637.10,832.07 L1638.80,832.17 L1640.49,832.27 L1642.19,832.36 L1643.89,832.45 L1645.60,832.55 L1647.31,832.64 L1649.02,832.73 L1650.73,832.81 L1652.44,832.90 L1654.16,832.98 L1655.88,833.07 L1657.60,833.15 L1659.32,833.23 L1661.05,833.31 L1662.78,833.38 L1664.51,833.46 L1666.25,833.54 L1667.98,833.61 L1669.72,833.68 L1671.46,833.75 L1673.21,833.82 L1674.95,833.89 L1676.70,833.96 L1678.45,834.02 L1680.20,834.09 L1681.96,834.15 L1683.72,834.22 L1685.48,834.28 L1687.24,834.34 L1689.01,834.40 L1690.78,834.46 L1692.55,834.51 L1694.32,834.57 L1696.09,834.63 L1697.87,834.68 L1699.65,834.73 L1701.43,834.79 L1703.22,834.84 L1705.00,834.89 L1706.79,834.94 L1708.58,834.99 L1710.38,835.04 L1712.17,835.08 L1713.97,835.13 L1715.77,835.18 L1717.58,835.22 L1719.38,835.26 L1721.19,835.31 L1723.00,835.35 L1724.82,835.39 L1726.63,835.43 L1728.45,835.47 L1730.27,835.51 L1732.09,835.55 L1733.92,835.59 L1735.74,835.63 L1737.57,835.66 L1739.40,835.70 L1741.24,835.73 L1743.07,835.77 L1744.91,835.80 L1746.75,835.84 L1748.60,835.87 L1750.44,835.90 L1752.29,835.93 L1754.14,835.96 L1755.99,835.99 L1757.85,836.02 L1759.71,836.05 L1761.57,836.08 L1763.43,836.11 L1765.29,836.14 L1767.16,836.16 L1769.03,836.19 L1770.90,836.22 L1772.77,836.24 L1774.65,836.27 L1776.53,836.29 L1778.41,836.32 L1780.29,836.34 L1782.17,836.36 L1784.06,836.39 L1785.95,836.41 L1787.84,836.43 L1789.74,836.45 L1791.63,836.47 L1793.53,836.50 L1795.43,836.52 L1797.34,836.54 L1799.24,836.56 L1801.15,836.57 L1803.06,836.59 L1804.97,836.61 L1806.89,836.63 L1808.80,836.65 L1810.72,836.67 L1812.65,836.68 L1814.57,836.70 L1816.49,836.72 L1818.42,836.73 L1820.35,836.75 L1822.29,836.76 L1824.22,836.78 L1826.16,836.79 L1828.10,836.81 L1830.04,836.82 L1831.98,836.84 L1833.93,836.85 L1835.88,836.86 L1837.83,836.88 L1839.78,836.89 L1841.74,836.90 L1843.70,836.91 L1845.66,836.93 L1847.62,836.94 L1849.58,836.95 L1851.55,836.96 L1853.52,836.97 L1855.49,836.98 L1857.46,837.00 L1859.44,837.01 L1861.42,837.02 L1863.40,837.03 L1865.38,837.04 L1867.36,837.05 L1869.35,837.06 L1871.34,837.07 L1873.33,837.07 L1875.32,837.08 L1877.32,837.09 L1879.31,837.10 L1881.31,837.11 L1883.32,837.12 L1885.32,837.13 L1887.33,837.13 L1889.34,837.14 L1891.35,837.15 L1893.36,837.16 L1895.37,837.16 L1897.39,837.17 L1899.41,837.18 L1901.43,837.19 L1903.46,837.19 L1905.48,837.20 L1907.51,837.21 L1909.54,837.21 L1911.57,837.22 L1913.61,837.22 L1915.65,837.23 L1917.69,837.24 L1919.73,837.24 L1921.77,837.25 L1923.82,837.25 L1925.87,837.26 L1927.92,837.26 L1929.97,837.27 L1932.02,837.27 L1934.08,837.28 L1936.14,837.28 L1938.20,837.29 L1940.26,837.29 L1942.33,837.30 L1944.39,837.30 L1946.46,837.31 L1948.54,837.31 L1950.61,837.32 L1952.69,837.32 L1954.76,837.32 L1956.85,837.33 L1958.93,837.33 L1961.01,837.33 L1963.10,837.34 L1965.19,837.34 L1967.28,837.35 L1969.37,837.35 L1971.47,837.35 L1973.57,837.36 L1975.67,837.36 L1977.77,837.36 L1979.87,837.37 L1981.98,837.37 L1984.09,837.37 L1986.20,837.37 L1988.31,837.38 L1990.42,837.38 L1992.54,837.38 L1994.66,837.39 L1996.78,837.39" fill="none" stroke="#3030ff" stroke-width="9" stroke-linecap="round" stroke-linejoin="round" stroke-dasharray="38.6 21.07 2 21.07 2 21.07" stroke-dashoffset="-2"/>
<path d="M1201.00,22.30 L1201.03,22.67 L1201.09,23.42 L1201.17,24.44 L1201.26,25.68 L1201.38,27.13 L1201.50,28.75 L1201.64,30.55 L1201.80,32.49 L1201.96,34.59 L1202.14,36.81 L1202.32,39.17 L1202.52,41.65 L1202.73,44.25 L1202.95,46.95 L1203.18,49.77 L1203.41,52.68 L1203.66,55.69 L1203.91,58.79 L1204.18,61.98 L1204.45,65.25 L1204.73,68.61 L1205.01,72.04 L1205.31,75.54 L1205.61,79.11 L1205.93,82.76 L1206.24,86.46 L1206.57,90.23 L1206.90,94.06 L1207.25,97.94 L1207.59,101.88 L1207.95,105.86 L1208.31,109.90 L1208.68,113.98 L1209.06,118.11 L1209.44,122.28 L1209.83,126.48 L1210.22,130.73 L1210.63,135.01 L1211.03,139.32 L1211.45,143.66 L1211.87,148.03 L1212.30,152.43 L1212.73,156.86 L1213.17,161.31 L1213.62,165.78 L1214.07,170.27 L1214.52,174.79 L1214.99,179.31 L1215.46,183.86 L1215.93,188.42 L1216.41,192.99 L1216.90,197.57 L1217.39,202.16 L1217.89,206.77 L1218.39,211.38 L1218.90,215.99 L1219.41,220.61 L1219.93,225.23 L1220.46,229.86 L1220.99,234.49 L1221.52,239.12 L1222.07,243.74 L1222.61,248.37 L1223.16,252.99 L1223.72,257.61 L1224.28,262.22 L1224.85,266.83 L1225.42,271.43 L1226.00,276.03 L1226.58,280.61 L1227.17,285.19 L1227.76,289.76 L1228.36,294.31 L1228.96,298.86 L1229.57,303.39 L1230.18,307.91 L1230.79,312.42 L1231.42,316.91 L1232.04,321.39 L1232.67,325.85 L1233.31,330.30 L1233.95,334.73 L1234.60,339.15 L1235.25,343.54 L1235.90,347.92 L1236.56,352.28 L1237.22,356.63 L1237.89,360.95 L1238.56,365.25 L1239.24,369.54 L1239.92,373.80 L1240.61,378.04 L1241.30,382.27 L1242.00,386.47 L1242.70,390.65 L1243.40,394.80 L1244.11,398.94 L1244.82,403.05 L1245.54,407.14 L1246.26,411.20 L1246.99,415.25 L1247.72,419.27 L1248.46,423.26 L1249.20,427.24 L1249.94,431.18 L1250.69,435.11 L1251.44,439.01 L1252.20,442.88 L1252.96,446.73 L1253.72,450.56 L1254.49,454.36 L1255.26,458.13 L1256.04,461.89 L1256.82,465.61 L1257.61,469.31 L1258.40,472.99 L1259.19,476.64 L1259.99,480.26 L1260.79,483.86 L1261.60,487.43 L1262.41,490.98 L1263.22,494.50 L1264.04,498.00 L1264.86,501.47 L1265.69,504.91 L1266.52,508.33 L1267.35,511.73 L1268.19,515.10 L1269.03,518.44 L1269.87,521.76 L1270.72,525.05 L1271.58,528.32 L1272.44,531.56 L1273.30,534.77 L1274.16,537.96 L1275.03,541.13 L1275.90,544.27 L1276.78,547.38 L1277.66,550.47 L1278.55,553.54 L1279.43,556.58 L1280.33,559.59 L1281.22,562.58 L1282.12,565.54 L1283.02,568.48 L1283.93,571.40 L1284.84,574.29 L1285.76,577.16 L1286.67,580.00 L1287.60,582.82 L1288.52,585.61 L1289.45,588.38 L1290.38,591.13 L1291.32,593.85 L1292.26,596.55 L1293.20,599.23 L1294.15,601.88 L1295.10,604.51 L1296.06,607.11 L1297.02,609.69 L1297.98,612.25 L1298.94,614.79 L1299.91,617.30 L1300.89,619.79 L1301.86,622.26 L1302.84,624.71 L1303.82,627.13 L1304.81,629.53 L1305.80,631.91 L1306.80,634.27 L1307.79,636.61 L1308.79,638.92 L1309.80,641.21 L1310.81,643.48 L1311.82,645.73 L1312.83,647.96 L1313.85,650.17 L1314.87,652.36 L1315.90,654.52 L1316.93,656.67 L1317.96,658.79 L1319.00,660.90 L1320.03,662.98 L1321.08,665.05 L1322.12,667.09 L1323.17,669.11 L1324.22,671.12 L1325.28,673.10 L1326.34,675.07 L1327.40,677.02 L1328.47,678.94 L1329.54,680.85 L1330.61,682.74 L1331.69,684.61 L1332.77,686.46 L1333.85,688.30 L1334.94,690.11 L1336.03,691.91 L1337.12,693.69 L1338.21,695.45 L1339.31,697.19 L1340.42,698.92 L1341.52,700.62 L1342.63,702.31 L1343.74,703.99 L1344.86,705.64 L1345.98,707.28 L1347.10,708.90 L1348.23,710.51 L1349.35,712.10 L1350.49,713.67 L1351.62,715.22 L1352.76,716.76 L1353.90,718.28 L1355.05,719.79 L1356.19,721.28 L1357.35,722.76 L1358.50,724.22 L1359.66,725.66 L1360.82,727.09 L1361.98,728.50 L1363.15,729.90 L1364.32,731.28 L1365.49,732.65 L1366.67,734.00 L1367.85,735.34 L1369.03,736.66 L1370.22,737.97 L1371.41,739.27 L1372.60,740.55 L1373.79,741.82 L1374.99,743.07 L1376.19,744.31 L1377.40,745.53 L1378.61,746.74 L1379.82,747.94 L1381.03,749.13 L1382.25,750.30 L1383.47,751.46 L1384.69,752.60 L1385.92,753.73 L1387.15,754.85 L1388.38,755.96 L1389.61,757.05 L1390.85,758.13 L1392.09,759.20 L1393.34,760.26 L1394.59,761.30 L1395.84,762.34 L1397.09,763.36 L1398.35,764.37 L1399.61,765.36 L1400.87,766.35 L1402.13,767.32 L1403.40,768.29 L1404.67,769.24 L1405.95,770.18 L1407.23,771.11 L1408.51,772.02 L1409.79,772.93 L1411.08,773.83 L1412.37,774.71 L1413.66,775.59 L1414.95,776.45 L1416.25,777.31 L1417.55,778.15 L1418.86,778.98 L1420.16,779.81 L1421.47,780.62 L1422.79,781.42 L1424.10,782.22 L1425.42,783.00 L1426.74,783.78 L1428.07,784.54 L1429.39,785.30 L1430.72,786.04 L1432.06,786.78 L1433.39,787.51 L1434.73,788.23 L1436.07,788.94 L1437.42,789.64 L1438.77,790.33 L1440.12,791.01 L1441.47,791.69 L1442.83,792.35 L1444.18,793.01 L1445.55,793.66 L1446.91,794.30 L1448.28,794.93 L1449.65,795.56 L1451.02,796.17 L1452.40,796.78 L1453.78,797.38 L1455.16,797.98 L1456.54,798.56 L1457.93,799.14 L1459.32,799.71 L1460.72,800.28 L1462.11,800.83 L1463.51,801.38 L1464.91,801.92 L1466.32,802.45 L1467.72,802.98 L1469.13,803.50 L1470.54,804.01 L1471.96,804.52 L1473.38,805.02 L1474.80,805.51 L1476.22,806.00 L1477.65,806.48 L1479.08,806.95 L1480.51,807.42 L1481.95,807.88 L1483.38,808.33 L1484.82,808.78 L1486.27,809.23 L1487.71,809.66 L1489.16,810.09 L1490.61,810.52 L1492.07,810.93 L1493.52,811.35 L1494.98,811.75 L1496.44,812.16 L1497.91,812.55 L1499.38,812.94 L1500.85,813.33 L1502.32,813.71 L1503.80,814.08 L1505.27,814.45 L1506.75,814.81 L1508.24,815.17 L1509.73,815.52 L1511.21,815.87 L1512.71,816.22 L1514.20,816.56 L1515.70,816.89 L1517.20,817.22 L1518.70,817.54 L1520.21,817.86 L1521.71,818.18 L1523.22,818.49 L1524.74,818.80 L1526.25,819.10 L1527.77,819.39 L1529.29,819.69 L1530.82,819.98 L1532.34,820.26 L1533.87,820.54 L1535.40,820.82 L1536.94,821.09 L1538.48,821.36 L1540.02,821.62 L1541.56,821.88 L1543.10,822.14 L1544.65,822.39 L1546.20,822.64 L1547.75,822.89 L1549.31,823.13 L1550.87,823.37 L1552.43,823.60 L1553.99,823.83 L1555.56,824.06 L1557.12,824.28 L1558.70,824.50 L1560.27,824.72 L1561.85,824.94 L1563.42,825.15 L1565.01,825.35 L1566.59,825.56 L1568.18,825.76 L1569.76,825.96 L1571.36,826.15 L1572.95,826.35 L1574.55,826.54 L1576.15,826.72 L1577.75,826.90 L1579.35,827.09 L1580.96,827.26 L1582.57,827.44 L1584.18,827.61 L1585.80,827.78 L1587.41,827.95 L1589.03,828.11 L1590.66,828.27 L1592.28,828.43 L1593.91,828.59 L1595.54,828.74 L1597.17,828.90 L1598.81,829.04 L1600.44,829.19 L1602.08,829.34 L1603.73,829.48 L1605.37,829.62 L1607.02,829.76 L1608.67,829.89 L1610.32,830.03 L1611.98,830.16 L1613.63,830.29 L1615.29,830.41 L1616.96,830.54 L1618.62,830.66 L1620.29,830.78 L1621.96,830.90 L1623.63,831.02 L1625.31,831.13 L1626.98,831.25 L1628.66,831.36 L1630.35,831.47 L1632.03,831.58 L1633.72,831.68 L1635.41,831.79 L1637.10,831.89 L1638.80,831.99 L1640.49,832.09 L1642.19,832.19 L1643.89,832.28 L1645.60,832.38 L1647.31,832.47 L1649.02,832.56 L1650.73,832.65 L1652.44,832.74 L1654.16,832.83 L1655.88,832.91 L1657.60,833.00 L1659.32,833.08 L1661.05,833.16 L1662.78,833.24 L1664.51,833.32 L1666.25,833.39 L1667.98,833.47 L1669.72,833.54 L1671.46,833.62 L1673.21,833.69 L1674.95,833.76 L1676.70,833.83 L1678.45,833.90 L1680.20,833.96 L1681.96,834.03 L1683.72,834.09 L1685.48,834.16 L1687.24,834.22 L1689.01,834.28 L1690.78,834.34 L1692.55,834.40 L1694.32,834.46 L1696.09,834.52 L1697.87,834.57 L1699.65,834.63 L1701.43,834.68 L1703.22,834.74 L1705.00,834.79 L1706.79,834.84 L1708.58,834.89 L1710.38,834.94 L1712.17,834.99 L1713.97,835.04 L1715.77,835.08 L1717.58,835.13 L1719.38,835.18 L1721.19,835.22 L1723.00,835.26 L1724.82,835.31 L1726.63,835.35 L1728.45,835.39 L1730.27,835.43 L1732.09,835.47 L1733.92,835.51 L1735.74,835.55 L1737.57,835.59 L1739.40,835.62 L1741.24,835.66 L1743.07,835.70 L1744.91,835.73 L1746.75,835.77 L1748.60,835.80 L1750.44,835.83 L1752.29,835.87 L1754.14,835.90 L1755.99,835.93 L1757.85,835.96 L1759.71,835.99 L1761.57,836.02 L1763.43,836.05 L1765.29,836.08 L1767.16,836.11 L1769.03,836.13 L1770.90,836.16 L1772.77,836.19 L1774.65,836.21 L1776.53,836.24 L1778.41,836.26 L1780.29,836.29 L1782.17,836.31 L1784.06,836.34 L1785.95,836.36 L1787.84,836.38 L1789.74,836.41 L1791.63,836.43 L1793.53,836.45 L1795.43,836.47 L1797.34,836.49 L1799.24,836.51 L1801.15,836.53 L1803.06,836.55 L1804.97,836.57 L1806.89,836.59 L1808.80,836.61 L1810.72,836.63 L1812.65,836.64 L1814.57,836.66 L1816.49,836.68 L1818.42,836.70 L1820.35,836.71 L1822.29,836.73 L1824.22,836.74 L1826.16,836.76 L1828.10,836.77 L1830.04,836.79 L1831.98,836.80 L1833.93,836.82 L1835.88,836.83 L1837.83,836.85 L1839.78,836.86 L1841.74,836.87 L1843.70,836.89 L1845.66,836.90 L1847.62,836.91 L1849.58,836.92 L1851.55,836.94 L1853.52,836.95 L1855.49,836.96 L1857.46,836.97 L1859.44,836.98 L1861.42,836.99 L1863.40,837.00 L1865.38,837.01 L1867.36,837.02 L1869.35,837.03 L1871.34,837.04 L1873.33,837.05 L1875.32,837.06 L1877.32,837.07 L1879.31,837.08 L1881.31,837.09 L1883.32,837.10 L1885.32,837.11 L1887.33,837.12 L1889.34,837.12 L1891.35,837.13 L1893.36,837.14 L1895.37,837.15 L1897.39,837.15 L1899.41,837.16 L1901.43,837.17 L1903.46,837.18 L1905.48,837.18 L1907.51,837.19 L1909.54,837.20 L1911.57,837.20 L1913.61,837.21 L1915.65,837.22 L1917.69,837.22 L1919.73,837.23 L1921.77,837.23 L1923.82,837.24 L1925.87,837.25 L1927.92,837.25 L1929.97,837.26 L1932.02,837.26 L1934.08,837.27 L1936.14,837.27 L1938.20,837.28 L1940.26,837.28 L1942.33,837.29 L1944.39,837.29 L1946.46,837.30 L1948.54,837.30 L1950.61,837.30 L1952.69,837.31 L1954.76,837.31 L1956.85,837.32 L1958.93,837.32 L1961.01,837.33 L1963.10,837.33 L1965.19,837.33 L1967.28,837.34 L1969.37,837.34 L1971.47,837.34 L1973.57,837.35 L1975.67,837.35 L1977.77,837.35 L1979.87,837.36 L1981.98,837.36 L1984.09,837.36 L1986.20,837.37 L1988.31,837.37 L1990.42,837.37 L1992.54,837.38 L1994.66,837.38 L1996.78,837.38" fill="none" stroke="#00cc00" stroke-width="9" stroke-linecap="round" stroke-linejoin="round" stroke-dasharray="38.6 21.07 2 21.07 2 21.07" stroke-dashoffset="-2"/>
</g>
<path d="M216.53,837.5 V823.80 M243.05,837.5 V823.80 M269.58,837.5 V823.80 M296.10,837.5 V823.80 M349.16,837.5 V823.80 M375.68,837.5 V823.80 M402.21,837.5 V823.80 M428.73,837.5 V823.80 M481.79,837.5 V823.80 M508.31,837.5 V823.80 M534.84,837.5 V823.80 M561.36,837.5 V823.80 M614.42,837.5 V823.80 M640.94,837.5 V823.80 M667.47,837.5 V823.80 M693.99,837.5 V823.80 M747.05,837.5 V823.80 M773.57,837.5 V823.80 M800.10,837.5 V823.80 M826.62,837.5 V823.80 M879.68,837.5 V823.80 M906.20,837.5 V823.80 M932.73,837.5 V823.80 M959.25,837.5 V823.80 M190.0,804.89 H203.70 M190.0,772.28 H203.70 M190.0,739.68 H203.70 M190.0,707.07 H203.70 M190.0,641.85 H203.70 M190.0,609.24 H203.70 M190.0,576.64 H203.70 M190.0,544.03 H203.70 M190.0,478.81 H203.70 M190.0,446.20 H203.70 M190.0,413.60 H203.70 M190.0,380.99 H203.70 M190.0,315.77 H203.70 M190.0,283.16 H203.70 M190.0,250.56 H203.70 M190.0,217.95 H203.70 M190.0,152.73 H203.70 M190.0,120.12 H203.70 M190.0,87.52 H203.70 M190.0,54.91 H203.70" stroke="#000" stroke-width="1.9" stroke-linecap="round" fill="none"/>
<path d="M322.63,837.5 V816.00 M455.26,837.5 V816.00 M587.89,837.5 V816.00 M720.52,837.5 V816.00 M853.15,837.5 V816.00 M190.0,674.46 H211.50 M190.0,511.42 H211.50 M190.0,348.38 H211.50 M190.0,185.34 H211.50" stroke="#000" stroke-width="4" stroke-linecap="round" fill="none"/>
<rect x="190.0" y="22.3" width="795.78" height="815.20" fill="none" stroke="#000" stroke-width="5.8" stroke-linejoin="round"/>
<path d="M1227.53,837.5 V823.80 M1254.05,837.5 V823.80 M1280.58,837.5 V823.80 M1307.10,837.5 V823.80 M1360.16,837.5 V823.80 M1386.68,837.5 V823.80 M1413.21,837.5 V823.80 M1439.73,837.5 V823.80 M1492.79,837.5 V823.80 M1519.31,837.5 V823.80 M1545.84,837.5 V823.80 M1572.36,837.5 V823.80 M1625.42,837.5 V823.80 M1651.94,837.5 V823.80 M1678.47,837.5 V823.80 M1704.99,837.5 V823.80 M1758.05,837.5 V823.80 M1784.57,837.5 V823.80 M1811.10,837.5 V823.80 M1837.62,837.5 V823.80 M1890.68,837.5 V823.80 M1917.20,837.5 V823.80 M1943.73,837.5 V823.80 M1970.25,837.5 V823.80 M1201.0,804.89 H1214.70 M1201.0,772.28 H1214.70 M1201.0,739.68 H1214.70 M1201.0,707.07 H1214.70 M1201.0,641.85 H1214.70 M1201.0,609.24 H1214.70 M1201.0,576.64 H1214.70 M1201.0,544.03 H1214.70 M1201.0,478.81 H1214.70 M1201.0,446.20 H1214.70 M1201.0,413.60 H1214.70 M1201.0,380.99 H1214.70 M1201.0,315.77 H1214.70 M1201.0,283.16 H1214.70 M1201.0,250.56 H1214.70 M1201.0,217.95 H1214.70 M1201.0,152.73 H1214.70 M1201.0,120.12 H1214.70 M1201.0,87.52 H1214.70 M1201.0,54.91 H1214.70" stroke="#000" stroke-width="1.9" stroke-linecap="round" fill="none"/>
<path d="M1333.63,837.5 V816.00 M1466.26,837.5 V816.00 M1598.89,837.5 V816.00 M1731.52,837.5 V816.00 M1864.15,837.5 V816.00 M1201.0,674.46 H1222.50 M1201.0,511.42 H1222.50 M1201.0,348.38 H1222.50 M1201.0,185.34 H1222.50" stroke="#000" stroke-width="4" stroke-linecap="round" fill="none"/>
<rect x="1201.0" y="22.3" width="795.78" height="815.20" fill="none" stroke="#000" stroke-width="5.8" stroke-linejoin="round"/>
<path d="M489.1,540.2 L285.10,743.10" stroke="#000" stroke-width="7.5" stroke-linecap="round" fill="none"/>
<path d="M250.00,779.20 L277.80,735.80 L292.40,750.40 Z" fill="#000" stroke="#000" stroke-width="7.5" stroke-linejoin="round"/>
<path d="M1505.4,550.2 L1311.10,743.10" stroke="#000" stroke-width="7.5" stroke-linecap="round" fill="none"/>
<path d="M1276.00,779.20 L1303.80,735.80 L1318.40,750.40 Z" fill="#000" stroke="#000" stroke-width="7.5" stroke-linejoin="round"/>
<path d="M678.6,181.1 H833.8" stroke="#cc0000" stroke-width="9" stroke-linecap="round"/>
<path d="M673.7,246.1 H824.0" stroke="#cc0000" stroke-width="9" stroke-linecap="round" stroke-dasharray="22.9 13.65 0.01 13.65 0.01 13.65"/>
<path d="M1682.7,186.6 H1837.9" stroke="#cc0000" stroke-width="9" stroke-linecap="round"/>
<path d="M1682.7,250.1 H1833.4" stroke="#cc0000" stroke-width="9" stroke-linecap="round" stroke-dasharray="22.9 13.65 0.01 13.65 0.01 13.65"/>
<text x="105.84" y="37.16" font-family='"Liberation Sans", sans-serif' font-weight="bold" font-size="44.51"  stroke="#000" stroke-width="0.55">0.5</text>
<text x="104.95" y="200.20" font-family='"Liberation Sans", sans-serif' font-weight="bold" font-size="44.51"  stroke="#000" stroke-width="0.55">0.4</text>
<text x="106.29" y="363.24" font-family='"Liberation Sans", sans-serif' font-weight="bold" font-size="44.51"  stroke="#000" stroke-width="0.55">0.3</text>
<text x="106.51" y="526.28" font-family='"Liberation Sans", sans-serif' font-weight="bold" font-size="44.51"  stroke="#000" stroke-width="0.55">0.2</text>
<text x="105.84" y="689.32" font-family='"Liberation Sans", sans-serif' font-weight="bold" font-size="44.51"  stroke="#000" stroke-width="0.55">0.1</text>
<text x="143.68" y="852.36" font-family='"Liberation Sans", sans-serif' font-weight="bold" font-size="44.51"  stroke="#000" stroke-width="0.55">0</text>
<text x="177.02" y="887.66" font-family='"Liberation Sans", sans-serif' font-weight="bold" font-size="44.51"  stroke="#000" stroke-width="0.55">0</text>
<text x="309.65" y="887.66" font-family='"Liberation Sans", sans-serif' font-weight="bold" font-size="44.51"  stroke="#000" stroke-width="0.55">1</text>
<text x="442.28" y="887.66" font-family='"Liberation Sans", sans-serif' font-weight="bold" font-size="44.51"  stroke="#000" stroke-width="0.55">2</text>
<text x="574.91" y="887.66" font-family='"Liberation Sans", sans-serif' font-weight="bold" font-size="44.51"  stroke="#000" stroke-width="0.55">3</text>
<text x="707.54" y="887.66" font-family='"Liberation Sans", sans-serif' font-weight="bold" font-size="44.51"  stroke="#000" stroke-width="0.55">4</text>
<text x="840.17" y="887.66" font-family='"Liberation Sans", sans-serif' font-weight="bold" font-size="44.51"  stroke="#000" stroke-width="0.55">5</text>
<text x="972.80" y="887.66" font-family='"Liberation Sans", sans-serif' font-weight="bold" font-size="44.51"  stroke="#000" stroke-width="0.55">6</text>
<text x="1116.84" y="37.16" font-family='"Liberation Sans", sans-serif' font-weight="bold" font-size="44.51"  stroke="#000" stroke-width="0.55">0.5</text>
<text x="1115.95" y="200.20" font-family='"Liberation Sans", sans-serif' font-weight="bold" font-size="44.51"  stroke="#000" stroke-width="0.55">0.4</text>
<text x="1117.29" y="363.24" font-family='"Liberation Sans", sans-serif' font-weight="bold" font-size="44.51"  stroke="#000" stroke-width="0.55">0.3</text>
<text x="1117.51" y="526.28" font-family='"Liberation Sans", sans-serif' font-weight="bold" font-size="44.51"  stroke="#000" stroke-width="0.55">0.2</text>
<text x="1116.84" y="689.32" font-family='"Liberation Sans", sans-serif' font-weight="bold" font-size="44.51"  stroke="#000" stroke-width="0.55">0.1</text>
<text x="1154.68" y="852.36" font-family='"Liberation Sans", sans-serif' font-weight="bold" font-size="44.51"  stroke="#000" stroke-width="0.55">0</text>
<text x="1188.02" y="887.66" font-family='"Liberation Sans", sans-serif' font-weight="bold" font-size="44.51"  stroke="#000" stroke-width="0.55">0</text>
<text x="1320.65" y="887.66" font-family='"Liberation Sans", sans-serif' font-weight="bold" font-size="44.51"  stroke="#000" stroke-width="0.55">1</text>
<text x="1453.28" y="887.66" font-family='"Liberation Sans", sans-serif' font-weight="bold" font-size="44.51"  stroke="#000" stroke-width="0.55">2</text>
<text x="1585.91" y="887.66" font-family='"Liberation Sans", sans-serif' font-weight="bold" font-size="44.51"  stroke="#000" stroke-width="0.55">3</text>
<text x="1718.54" y="887.66" font-family='"Liberation Sans", sans-serif' font-weight="bold" font-size="44.51"  stroke="#000" stroke-width="0.55">4</text>
<text x="1851.17" y="887.66" font-family='"Liberation Sans", sans-serif' font-weight="bold" font-size="44.51"  stroke="#000" stroke-width="0.55">5</text>
<text x="1983.80" y="887.66" font-family='"Liberation Sans", sans-serif' font-weight="bold" font-size="44.51"  stroke="#000" stroke-width="0.55">6</text>
<text x="0.13" y="967.80" font-family='"Liberation Sans", sans-serif' font-weight="bold" font-size="52.03"  stroke="#000" stroke-width="0.55">(a)</text>
<text x="1010.60" y="967.80" font-family='"Liberation Sans", sans-serif' font-weight="bold" font-size="52.03"  stroke="#000" stroke-width="0.55">(b)</text>
<text transform="translate(568.12,941.65) scale(1.139,1)" font-family='"Liberation Serif", serif' font-weight="normal" font-size="63.50">η</text>
<text transform="translate(1580.12,943.12) scale(1.133,1)" font-family='"Liberation Serif", serif' font-weight="normal" font-size="63.65">η</text>
<text transform="translate(73.67,484.10) rotate(-90)" font-family='"Liberation Sans", sans-serif' font-weight="bold" font-size="53.16" stroke="#000" stroke-width="0.55">g</text>
<text transform="translate(60.04,455.73) rotate(-90)" font-family='"Liberation Sans", sans-serif' font-weight="bold" font-size="53.16" stroke="#000" stroke-width="0.55">'</text>
<text transform="translate(73.09,439.55) rotate(-90)" font-family='"Liberation Sans", sans-serif' font-weight="bold" font-size="53.16" stroke="#000" stroke-width="0.55">(</text>
<text transform="translate(73.42,419.97) rotate(-90) scale(1.130,1)" font-family='"Liberation Serif", serif' font-weight="normal" font-size="51.53">η</text>
<text transform="translate(73.09,387.63) rotate(-90)" font-family='"Liberation Sans", sans-serif' font-weight="bold" font-size="53.16" stroke="#000" stroke-width="0.55">)</text>
<text transform="translate(1084.87,486.30) rotate(-90)" font-family='"Liberation Sans", sans-serif' font-weight="bold" font-size="53.16" stroke="#000" stroke-width="0.55">g</text>
<text transform="translate(1071.24,457.93) rotate(-90)" font-family='"Liberation Sans", sans-serif' font-weight="bold" font-size="53.16" stroke="#000" stroke-width="0.55">'</text>
<text transform="translate(1084.29,441.75) rotate(-90)" font-family='"Liberation Sans", sans-serif' font-weight="bold" font-size="53.16" stroke="#000" stroke-width="0.55">(</text>
<text transform="translate(1084.62,422.17) rotate(-90) scale(1.130,1)" font-family='"Liberation Serif", serif' font-weight="normal" font-size="51.53">η</text>
<text transform="translate(1084.29,389.83) rotate(-90)" font-family='"Liberation Sans", sans-serif' font-weight="bold" font-size="53.16" stroke="#000" stroke-width="0.55">)</text>
<text x="503.92" y="74.22" font-family='"Liberation Sans", sans-serif' font-weight="bold" font-size="36.93"  stroke="#000" stroke-width="0.55">Cu/water</text>
<text x="255.37" y="73.99" font-family='"Liberation Sans", sans-serif' font-weight="bold" font-size="36.93"  stroke="#000" stroke-width="0.55">M</text>
<text x="297.55" y="73.44" font-family='"Liberation Sans", sans-serif' font-weight="bold" font-size="36.93"  stroke="#000" stroke-width="1.1">=</text>
<text transform="translate(328.87,72.10) scale(1.102,1)" font-family='"Liberation Serif", serif' font-weight="normal" font-size="37.30">λ</text>
<text x="359.45" y="73.44" font-family='"Liberation Sans", sans-serif' font-weight="bold" font-size="36.93"  stroke="#000" stroke-width="1.1">=</text>
<text x="392.61" y="73.99" font-family='"Liberation Sans", sans-serif' font-weight="bold" font-size="36.93"  stroke="#000" stroke-width="0.55">0.5</text>
<text transform="translate(1270.18,73.90) scale(1.082,1)" font-family='"Liberation Serif", serif' font-weight="normal" font-size="39.79">α</text>
<text x="1299.50" y="73.44" font-family='"Liberation Sans", sans-serif' font-weight="bold" font-size="36.93"  stroke="#000" stroke-width="1.1">=</text>
<text transform="translate(1335.18,73.90) scale(1.092,1)" font-family='"Liberation Serif", serif' font-weight="normal" font-size="37.45">λ</text>
<text x="1361.70" y="73.44" font-family='"Liberation Sans", sans-serif' font-weight="bold" font-size="36.93"  stroke="#000" stroke-width="1.1">=</text>
<text x="1394.61" y="73.99" font-family='"Liberation Sans", sans-serif' font-weight="bold" font-size="36.93"  stroke="#000" stroke-width="0.55">0.5</text>
<text x="1514.77" y="74.22" font-family='"Liberation Sans", sans-serif' font-weight="bold" font-size="36.93"  stroke="#000" stroke-width="0.55">Cu/water</text>
<text transform="translate(850.26,144.30) scale(1.300,1)" font-family='"Liberation Serif", serif' font-weight="normal" font-size="40.00">α</text>
<text x="844.18" y="261.31" font-family='"Liberation Sans", sans-serif' font-weight="bold" font-size="39.89"  stroke="#000" stroke-width="0.55">0.8</text>
<text x="855.53" y="197.51" font-family='"Liberation Sans", sans-serif' font-weight="bold" font-size="39.89"  stroke="#000" stroke-width="0.55">0</text>
<text x="1861.47" y="147.91" font-family='"Liberation Sans", sans-serif' font-weight="bold" font-size="45.25"  stroke="#000" stroke-width="0.55">M</text>
<text x="1867.03" y="197.51" font-family='"Liberation Sans", sans-serif' font-weight="bold" font-size="39.89"  stroke="#000" stroke-width="0.55">0</text>
<text x="1869.68" y="261.31" font-family='"Liberation Sans", sans-serif' font-weight="bold" font-size="39.89"  stroke="#000" stroke-width="0.55">1</text>
<text transform="translate(454.95,527.69) scale(1.045,1)" font-family='"Liberation Serif", serif' font-weight="normal" font-size="36.81">ϕ</text>
<text x="484.90" y="530.19" font-family='"Liberation Sans", sans-serif' font-weight="bold" font-size="36.93"  stroke="#000" stroke-width="1.1">=</text>
<text x="517.17" y="531.01" font-family='"Liberation Sans", sans-serif' font-weight="bold" font-size="38.19"  stroke="#000" stroke-width="0.55">0, 0.1, 0.2</text>
<text transform="translate(1461.85,542.94) scale(1.045,1)" font-family='"Liberation Serif", serif' font-weight="normal" font-size="37.03">ϕ</text>
<text x="1491.85" y="544.29" font-family='"Liberation Sans", sans-serif' font-weight="bold" font-size="36.93"  stroke="#000" stroke-width="1.1">=</text>
<text x="1524.17" y="544.81" font-family='"Liberation Sans", sans-serif' font-weight="bold" font-size="38.19"  stroke="#000" stroke-width="0.55">0, 0.1, 0.2</text>
</svg>
</body></html>
